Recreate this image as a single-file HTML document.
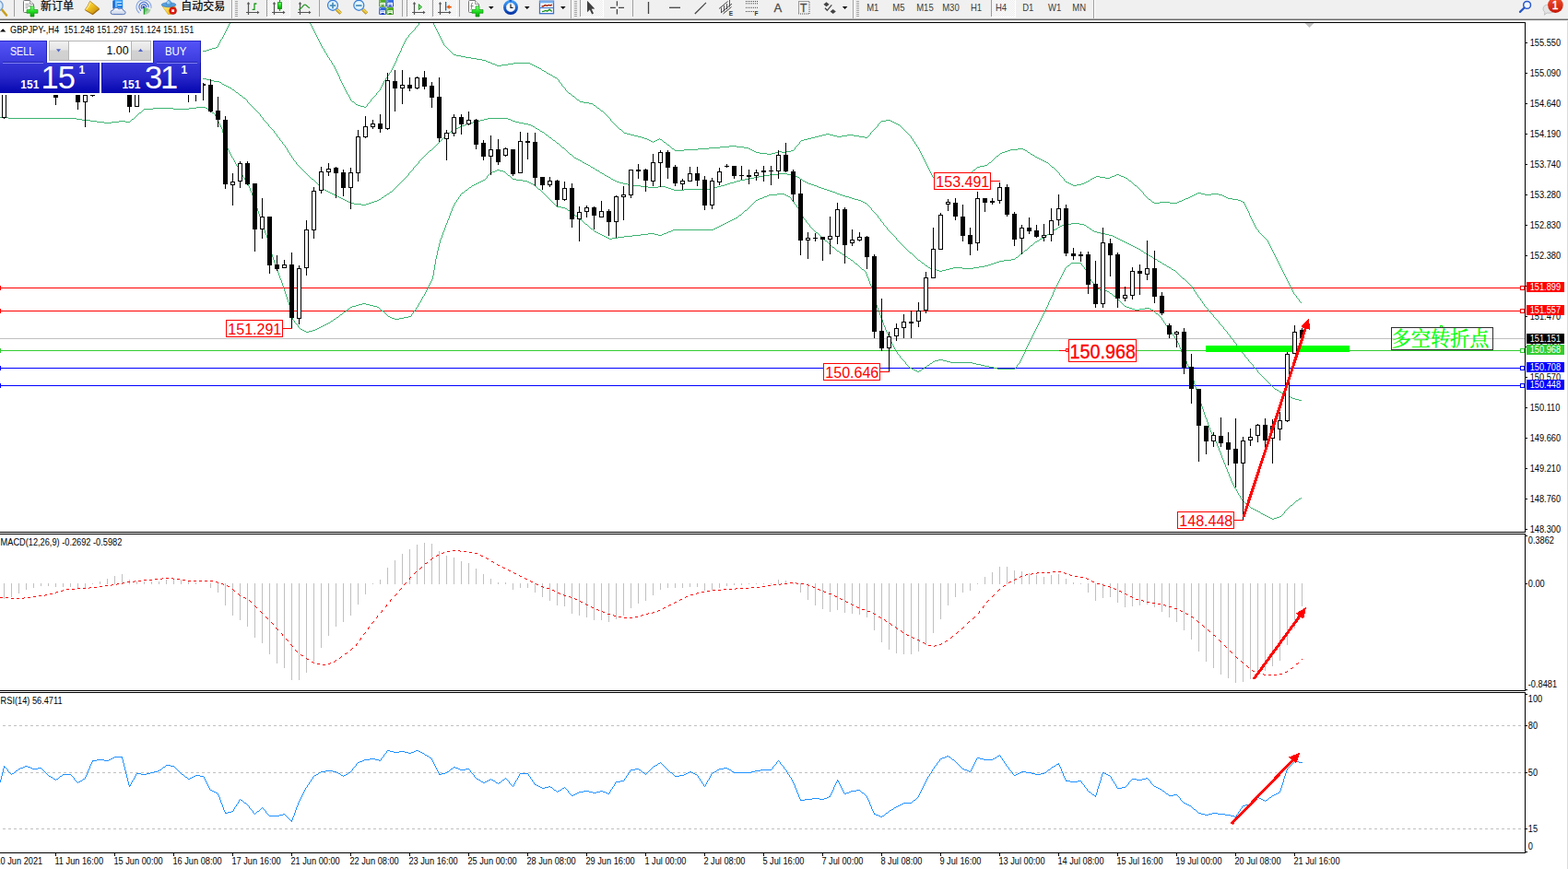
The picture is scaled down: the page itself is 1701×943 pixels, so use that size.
<!DOCTYPE html>
<html><head><meta charset="utf-8"><title>GBPJPY H4</title>
<style>
html,body{margin:0;padding:0;background:#fff;}
body{width:1701px;height:943px;overflow:hidden;position:relative;font-family:"Liberation Sans",sans-serif;}
#tb{position:absolute;left:0;top:0;width:1701px;height:20px;background:#f0f0f0;}
.ln{position:absolute;left:0;width:1701px;height:1px;}
</style></head><body>
<svg width="1701" height="943" viewBox="0 0 1701 943" style="position:absolute;left:0;top:0" font-family="Liberation Sans, sans-serif">
<defs><clipPath id="cm"><rect x="0" y="25" width="1654" height="552"/></clipPath><clipPath id="cd"><rect x="0" y="926" width="1701" height="17"/></clipPath></defs>
<g shape-rendering="crispEdges">
<rect x="0" y="367" width="1654" height="1" fill="#c0c0c0"/>
<rect x="0" y="312" width="1654" height="1" fill="#ff0000"/>
<rect x="0" y="337" width="1654" height="1" fill="#ff0000"/>
<rect x="0" y="380" width="1654" height="1" fill="#32cd32"/>
<rect x="0" y="399" width="1654" height="1" fill="#0000ff"/>
<rect x="0" y="418" width="1654" height="1" fill="#0000ff"/>
<rect x="0" y="310" width="1" height="5" fill="#ff0000"/>
<rect x="0" y="335" width="1" height="5" fill="#ff0000"/>
<rect x="0" y="378" width="1" height="5" fill="#32cd32"/>
<rect x="0" y="397" width="1" height="5" fill="#0000ff"/>
<rect x="0" y="416" width="1" height="5" fill="#0000ff"/>
</g>
<path d="M249 25h1v1h-1zM248 26h1v2h-1zM247 28h1v2h-1zM246 30h1v2h-1zM245 32h1v2h-1zM244 34h1v2h-1zM243 36h1v2h-1zM242 38h1v2h-1zM241 40h1v2h-1zM240 42h1v1h-1zM239 43h1v2h-1zM238 45h1v2h-1zM237 47h1v2h-1zM236 49h1v2h-1zM234 51h2v1h-2zM230 52h4v1h-4zM227 53h3v1h-3zM224 54h3v1h-3zM190 55h34v1h-34zM130 56h60v1h-60zM51 57h79v1h-79zM0 58h51v1h-51z" fill="#3cb371" shape-rendering="crispEdges"/>
<path d="M336 25h1v1h-1zM454 25h1v2h-1zM337 26h1v2h-1zM453 27h1v1h-1zM338 28h1v2h-1zM452 28h1v1h-1zM451 29h1v1h-1zM339 30h1v2h-1zM450 30h1v2h-1zM340 32h1v2h-1zM449 32h1v1h-1zM448 33h1v1h-1zM341 34h1v2h-1zM447 34h1v1h-1zM446 35h1v1h-1zM342 36h1v2h-1zM445 36h1v1h-1zM444 37h1v1h-1zM343 38h1v2h-1zM443 38h1v2h-1zM344 40h1v2h-1zM442 40h1v1h-1zM441 41h1v1h-1zM345 42h1v2h-1zM440 42h1v2h-1zM346 44h1v2h-1zM439 44h1v2h-1zM347 46h1v2h-1zM438 46h1v2h-1zM348 48h1v2h-1zM437 48h1v2h-1zM349 50h1v2h-1zM436 50h1v2h-1zM350 52h1v1h-1zM435 52h1v3h-1zM351 53h1v2h-1zM352 55h1v2h-1zM434 55h1v2h-1zM353 57h1v1h-1zM433 57h1v2h-1zM354 58h1v2h-1zM432 59h1v2h-1zM355 60h1v2h-1zM431 61h1v2h-1zM356 62h1v1h-1zM357 63h1v2h-1zM430 63h1v3h-1zM358 65h1v1h-1zM359 66h1v2h-1zM429 66h1v2h-1zM360 68h1v2h-1zM428 68h1v2h-1zM361 70h1v1h-1zM427 70h1v2h-1zM362 71h1v2h-1zM426 72h1v2h-1zM363 73h1v2h-1zM425 74h1v2h-1zM364 75h1v2h-1zM424 76h1v2h-1zM365 77h1v2h-1zM423 78h1v1h-1zM366 79h1v2h-1zM422 79h1v2h-1zM367 81h1v2h-1zM421 81h1v1h-1zM420 82h1v2h-1zM368 83h1v3h-1zM419 84h1v1h-1zM418 85h1v2h-1zM369 86h1v2h-1zM417 87h1v1h-1zM370 88h1v2h-1zM416 88h1v2h-1zM371 90h1v2h-1zM415 90h1v2h-1zM372 92h1v2h-1zM414 92h1v2h-1zM373 94h1v2h-1zM413 94h1v2h-1zM374 96h1v2h-1zM412 96h1v2h-1zM375 98h1v2h-1zM411 98h1v1h-1zM410 99h1v1h-1zM376 100h1v2h-1zM409 100h1v1h-1zM408 101h1v2h-1zM377 102h1v1h-1zM378 103h1v2h-1zM407 103h1v1h-1zM406 104h1v1h-1zM379 105h1v2h-1zM405 105h1v1h-1zM404 106h1v1h-1zM380 107h1v2h-1zM403 107h1v1h-1zM402 108h1v2h-1zM381 109h1v1h-1zM382 110h2v1h-2zM401 110h1v1h-1zM384 111h1v1h-1zM400 111h1v1h-1zM385 112h1v1h-1zM399 112h1v1h-1zM386 113h2v1h-2zM398 113h1v2h-1zM388 114h3v1h-3zM391 115h4v1h-4zM397 115h1v1h-1zM395 116h2v1h-2z" fill="#3cb371" shape-rendering="crispEdges"/>
<path d="M470 25h1v2h-1zM471 27h1v2h-1zM472 29h1v2h-1zM473 31h1v2h-1zM474 33h1v2h-1zM475 35h1v2h-1zM476 37h1v2h-1zM477 39h1v2h-1zM478 41h1v2h-1zM479 43h1v2h-1zM480 45h1v2h-1zM481 47h1v2h-1zM482 49h1v1h-1zM483 50h1v1h-1zM484 51h1v1h-1zM485 52h1v1h-1zM486 53h1v1h-1zM487 54h1v1h-1zM488 55h1v1h-1zM489 56h1v1h-1zM490 57h1v1h-1zM491 58h1v1h-1zM492 59h3v1h-3zM495 60h5v1h-5zM500 61h5v1h-5zM505 62h6v1h-6zM511 63h6v1h-6zM517 64h6v1h-6zM523 65h4v1h-4zM527 66h2v1h-2zM529 67h3v1h-3zM532 68h2v1h-2zM557 68h18v1h-18zM534 69h3v1h-3zM551 69h6v1h-6zM575 69h2v1h-2zM537 70h2v1h-2zM544 70h7v1h-7zM577 70h2v1h-2zM539 71h5v1h-5zM579 71h2v1h-2zM581 72h2v1h-2zM583 73h2v1h-2zM585 74h2v1h-2zM587 75h1v1h-1zM588 76h2v1h-2zM590 77h2v1h-2zM592 78h1v1h-1zM593 79h2v1h-2zM595 80h2v1h-2zM597 81h2v1h-2zM599 82h1v1h-1zM600 83h2v1h-2zM602 84h2v1h-2zM604 85h1v1h-1zM605 86h1v1h-1zM606 87h1v2h-1zM607 89h1v1h-1zM608 90h1v1h-1zM609 91h1v2h-1zM610 93h1v1h-1zM611 94h1v1h-1zM612 95h1v1h-1zM613 96h1v2h-1zM614 98h1v1h-1zM615 99h1v1h-1zM616 100h1v1h-1zM617 101h2v1h-2zM619 102h1v1h-1zM620 103h1v1h-1zM621 104h2v1h-2zM623 105h1v1h-1zM624 106h1v1h-1zM625 107h1v1h-1zM626 108h2v1h-2zM628 109h1v1h-1zM629 110h4v1h-4zM633 111h6v1h-6zM639 112h4v1h-4zM643 113h1v1h-1zM644 114h2v1h-2zM646 115h1v1h-1zM647 116h1v1h-1zM648 117h2v1h-2zM650 118h1v1h-1zM651 119h1v1h-1zM652 120h2v1h-2zM654 121h1v1h-1zM655 122h1v1h-1zM656 123h1v1h-1zM657 124h1v1h-1zM658 125h1v1h-1zM659 126h1v1h-1zM660 127h1v1h-1zM661 128h1v1h-1zM662 129h1v2h-1zM961 130h5v1h-5zM663 131h1v1h-1zM956 131h5v1h-5zM966 131h2v1h-2zM664 132h1v1h-1zM955 132h1v1h-1zM968 132h2v1h-2zM665 133h1v1h-1zM954 133h1v1h-1zM970 133h2v1h-2zM666 134h1v1h-1zM953 134h1v1h-1zM972 134h2v1h-2zM667 135h1v1h-1zM952 135h1v2h-1zM974 135h2v1h-2zM668 136h1v1h-1zM976 136h1v1h-1zM669 137h1v1h-1zM951 137h1v1h-1zM977 137h1v1h-1zM670 138h1v1h-1zM950 138h1v1h-1zM978 138h1v1h-1zM671 139h1v1h-1zM949 139h1v1h-1zM979 139h1v1h-1zM672 140h2v1h-2zM948 140h1v1h-1zM980 140h1v1h-1zM674 141h1v1h-1zM947 141h1v1h-1zM981 141h1v1h-1zM675 142h1v1h-1zM946 142h1v1h-1zM982 142h1v1h-1zM676 143h1v1h-1zM945 143h1v1h-1zM983 143h1v1h-1zM677 144h3v1h-3zM944 144h1v2h-1zM984 144h1v1h-1zM680 145h4v1h-4zM896 145h4v1h-4zM985 145h1v1h-1zM684 146h4v1h-4zM892 146h4v1h-4zM900 146h4v1h-4zM919 146h7v1h-7zM943 146h1v1h-1zM986 146h1v1h-1zM688 147h4v1h-4zM888 147h4v1h-4zM904 147h4v1h-4zM913 147h6v1h-6zM926 147h6v1h-6zM942 147h1v1h-1zM987 147h1v1h-1zM692 148h4v1h-4zM884 148h4v1h-4zM908 148h5v1h-5zM932 148h6v1h-6zM941 148h1v1h-1zM988 148h1v2h-1zM696 149h3v1h-3zM880 149h4v1h-4zM938 149h3v1h-3zM699 150h3v1h-3zM715 150h1v1h-1zM876 150h4v1h-4zM989 150h1v1h-1zM702 151h2v1h-2zM713 151h2v1h-2zM716 151h2v1h-2zM872 151h4v1h-4zM990 151h1v2h-1zM704 152h2v1h-2zM711 152h2v1h-2zM718 152h1v1h-1zM869 152h3v1h-3zM706 153h2v1h-2zM709 153h2v1h-2zM719 153h1v1h-1zM868 153h1v1h-1zM991 153h1v1h-1zM708 154h1v1h-1zM720 154h2v1h-2zM867 154h1v2h-1zM992 154h1v2h-1zM722 155h1v1h-1zM723 156h1v1h-1zM866 156h1v1h-1zM993 156h1v1h-1zM724 157h2v1h-2zM865 157h1v1h-1zM994 157h1v2h-1zM726 158h1v1h-1zM791 158h8v1h-8zM864 158h1v1h-1zM727 159h1v1h-1zM781 159h10v1h-10zM799 159h8v1h-8zM863 159h1v1h-1zM995 159h1v1h-1zM728 160h1v1h-1zM769 160h12v1h-12zM807 160h5v1h-5zM862 160h1v2h-1zM996 160h1v2h-1zM729 161h2v1h-2zM757 161h12v1h-12zM812 161h2v1h-2zM1104 161h6v1h-6zM731 162h1v1h-1zM742 162h15v1h-15zM814 162h2v1h-2zM861 162h1v1h-1zM997 162h1v2h-1zM1096 162h8v1h-8zM1110 162h2v1h-2zM732 163h10v1h-10zM816 163h2v1h-2zM858 163h3v1h-3zM1093 163h3v1h-3zM1112 163h2v1h-2zM818 164h2v1h-2zM844 164h4v1h-4zM853 164h5v1h-5zM998 164h1v2h-1zM1090 164h3v1h-3zM1114 164h1v1h-1zM820 165h4v1h-4zM841 165h3v1h-3zM848 165h5v1h-5zM1087 165h3v1h-3zM1115 165h2v1h-2zM824 166h8v1h-8zM837 166h4v1h-4zM999 166h1v2h-1zM1085 166h2v1h-2zM1117 166h1v1h-1zM832 167h5v1h-5zM1084 167h1v1h-1zM1118 167h2v1h-2zM1000 168h1v2h-1zM1083 168h1v1h-1zM1120 168h2v1h-2zM1081 169h2v1h-2zM1122 169h1v1h-1zM1001 170h1v2h-1zM1080 170h1v1h-1zM1123 170h2v1h-2zM1079 171h1v1h-1zM1125 171h2v1h-2zM1002 172h1v2h-1zM1078 172h1v1h-1zM1127 172h2v1h-2zM1077 173h1v1h-1zM1129 173h2v1h-2zM1003 174h1v2h-1zM1076 174h1v1h-1zM1131 174h2v1h-2zM1075 175h1v1h-1zM1133 175h2v1h-2zM1004 176h1v2h-1zM1073 176h2v1h-2zM1135 176h2v1h-2zM1072 177h1v1h-1zM1137 177h1v1h-1zM1005 178h1v2h-1zM1071 178h1v1h-1zM1138 178h1v1h-1zM1068 179h3v1h-3zM1139 179h1v1h-1zM1006 180h1v2h-1zM1063 180h5v1h-5zM1140 180h1v1h-1zM1060 181h3v1h-3zM1141 181h2v1h-2zM1007 182h1v2h-1zM1059 182h1v1h-1zM1143 182h1v1h-1zM1058 183h1v1h-1zM1144 183h1v1h-1zM1008 184h1v2h-1zM1056 184h2v1h-2zM1145 184h1v1h-1zM1055 185h1v1h-1zM1146 185h1v1h-1zM1009 186h1v2h-1zM1054 186h1v1h-1zM1147 186h1v1h-1zM1053 187h1v1h-1zM1148 187h1v1h-1zM1010 188h1v2h-1zM1052 188h1v1h-1zM1149 188h1v2h-1zM1050 189h2v1h-2zM1211 189h3v1h-3zM1011 190h1v2h-1zM1049 190h1v1h-1zM1150 190h1v1h-1zM1209 190h2v1h-2zM1214 190h2v1h-2zM1048 191h1v1h-1zM1151 191h1v1h-1zM1189 191h4v1h-4zM1206 191h3v1h-3zM1216 191h3v1h-3zM1012 192h1v1h-1zM1047 192h1v1h-1zM1152 192h1v1h-1zM1187 192h2v1h-2zM1193 192h6v1h-6zM1204 192h2v1h-2zM1219 192h2v1h-2zM1013 193h1v1h-1zM1046 193h1v1h-1zM1153 193h1v1h-1zM1185 193h2v1h-2zM1199 193h5v1h-5zM1221 193h2v1h-2zM1014 194h1v1h-1zM1044 194h2v1h-2zM1154 194h1v2h-1zM1183 194h2v1h-2zM1223 194h1v1h-1zM1015 195h1v1h-1zM1043 195h1v1h-1zM1182 195h1v1h-1zM1224 195h1v1h-1zM1016 196h1v1h-1zM1042 196h1v1h-1zM1155 196h1v1h-1zM1180 196h2v1h-2zM1225 196h2v1h-2zM1017 197h1v1h-1zM1040 197h2v1h-2zM1156 197h2v1h-2zM1178 197h2v1h-2zM1227 197h1v1h-1zM1018 198h1v1h-1zM1038 198h2v1h-2zM1158 198h2v1h-2zM1176 198h2v1h-2zM1228 198h1v1h-1zM1019 199h1v1h-1zM1036 199h2v1h-2zM1160 199h2v1h-2zM1173 199h3v1h-3zM1229 199h1v1h-1zM1020 200h3v1h-3zM1034 200h2v1h-2zM1162 200h2v1h-2zM1168 200h5v1h-5zM1230 200h1v1h-1zM1023 201h5v1h-5zM1032 201h2v1h-2zM1164 201h4v1h-4zM1231 201h2v1h-2zM1028 202h4v1h-4zM1233 202h1v1h-1zM1234 203h1v1h-1zM1235 204h1v1h-1zM1236 205h1v1h-1zM1237 206h1v1h-1zM1238 207h1v1h-1zM1239 208h1v1h-1zM1240 209h1v2h-1zM1299 209h4v1h-4zM1297 210h2v1h-2zM1303 210h4v1h-4zM1314 210h8v1h-8zM1241 211h1v1h-1zM1295 211h2v1h-2zM1307 211h7v1h-7zM1322 211h4v1h-4zM1242 212h1v1h-1zM1293 212h2v1h-2zM1326 212h2v1h-2zM1243 213h1v1h-1zM1291 213h2v1h-2zM1328 213h2v1h-2zM1244 214h1v1h-1zM1289 214h2v1h-2zM1330 214h2v1h-2zM1245 215h1v1h-1zM1286 215h3v1h-3zM1332 215h5v1h-5zM1246 216h2v1h-2zM1284 216h2v1h-2zM1337 216h6v1h-6zM1248 217h1v1h-1zM1282 217h2v1h-2zM1343 217h3v1h-3zM1249 218h1v1h-1zM1279 218h3v1h-3zM1346 218h2v1h-2zM1250 219h2v1h-2zM1258 219h11v1h-11zM1277 219h2v1h-2zM1348 219h2v1h-2zM1252 220h6v1h-6zM1269 220h8v1h-8zM1349 220h1v1h-1zM1350 221h1v2h-1zM1351 223h1v2h-1zM1352 225h1v2h-1zM1353 227h1v2h-1zM1354 229h1v2h-1zM1355 231h1v3h-1zM1356 234h1v2h-1zM1357 236h1v2h-1zM1358 238h1v2h-1zM1359 240h1v2h-1zM1360 242h1v2h-1zM1361 244h1v2h-1zM1362 246h1v2h-1zM1363 248h1v1h-1zM1364 249h1v1h-1zM1365 250h1v2h-1zM1366 252h1v1h-1zM1367 253h1v1h-1zM1368 254h1v1h-1zM1369 255h1v1h-1zM1370 256h1v1h-1zM1371 257h1v1h-1zM1372 258h1v1h-1zM1373 259h1v1h-1zM1374 260h1v1h-1zM1375 261h1v2h-1zM1376 263h1v2h-1zM1377 265h1v2h-1zM1378 267h1v2h-1zM1379 269h1v2h-1zM1380 271h1v2h-1zM1381 273h1v2h-1zM1382 275h1v2h-1zM1383 277h1v2h-1zM1384 279h1v2h-1zM1385 281h1v2h-1zM1386 283h1v2h-1zM1387 285h1v2h-1zM1388 287h1v2h-1zM1389 289h1v2h-1zM1390 291h1v2h-1zM1391 293h1v2h-1zM1392 295h1v2h-1zM1393 297h1v2h-1zM1394 299h1v2h-1zM1395 301h1v2h-1zM1396 303h1v2h-1zM1397 305h1v2h-1zM1398 307h1v2h-1zM1399 309h1v2h-1zM1400 311h1v2h-1zM1401 313h1v2h-1zM1402 315h1v2h-1zM1403 317h1v2h-1zM1404 319h1v1h-1zM1405 320h1v1h-1zM1406 321h1v2h-1zM1407 323h1v1h-1zM1408 324h1v1h-1zM1409 325h1v2h-1zM1410 327h1v1h-1zM1411 328h1v1h-1z" fill="#3cb371" shape-rendering="crispEdges"/>
<path d="M198 85h26v1h-26zM154 86h44v1h-44zM224 86h4v1h-4zM110 87h44v1h-44zM228 87h4v1h-4zM66 88h44v1h-44zM232 88h6v1h-6zM22 89h44v1h-44zM238 89h2v1h-2zM0 90h22v1h-22zM240 90h1v1h-1zM241 91h2v1h-2zM243 92h2v1h-2zM245 93h2v1h-2zM247 94h2v1h-2zM249 95h2v1h-2zM251 96h1v1h-1zM252 97h2v1h-2zM254 98h1v1h-1zM255 99h1v1h-1zM256 100h2v1h-2zM258 101h1v1h-1zM259 102h1v1h-1zM260 103h2v1h-2zM262 104h1v1h-1zM263 105h1v1h-1zM264 106h2v1h-2zM266 107h1v1h-1zM267 108h1v1h-1zM268 109h1v2h-1zM269 111h1v1h-1zM270 112h1v1h-1zM271 113h1v1h-1zM272 114h1v1h-1zM273 115h1v1h-1zM274 116h1v1h-1zM275 117h1v1h-1zM276 118h1v1h-1zM277 119h1v1h-1zM278 120h1v1h-1zM279 121h1v1h-1zM280 122h1v1h-1zM281 123h1v1h-1zM282 124h1v2h-1zM283 126h1v1h-1zM284 127h1v1h-1zM285 128h1v2h-1zM529 128h22v1h-22zM525 129h4v1h-4zM551 129h3v1h-3zM286 130h1v1h-1zM521 130h4v1h-4zM554 130h2v1h-2zM287 131h1v1h-1zM517 131h4v1h-4zM556 131h3v1h-3zM288 132h1v1h-1zM513 132h4v1h-4zM559 132h4v1h-4zM289 133h1v1h-1zM509 133h4v1h-4zM563 133h5v1h-5zM290 134h1v1h-1zM506 134h3v1h-3zM568 134h5v1h-5zM291 135h1v2h-1zM504 135h2v1h-2zM573 135h3v1h-3zM501 136h3v1h-3zM576 136h2v1h-2zM292 137h1v1h-1zM499 137h2v1h-2zM578 137h2v1h-2zM293 138h1v1h-1zM497 138h2v1h-2zM580 138h1v1h-1zM294 139h1v1h-1zM494 139h3v1h-3zM581 139h2v1h-2zM295 140h1v1h-1zM492 140h2v1h-2zM583 140h2v1h-2zM296 141h1v1h-1zM490 141h2v1h-2zM585 141h1v1h-1zM297 142h1v2h-1zM489 142h1v1h-1zM586 142h2v1h-2zM488 143h1v1h-1zM588 143h2v1h-2zM298 144h1v1h-1zM487 144h1v1h-1zM590 144h1v1h-1zM299 145h1v1h-1zM486 145h1v1h-1zM591 145h1v1h-1zM300 146h1v2h-1zM485 146h1v1h-1zM592 146h2v1h-2zM484 147h1v1h-1zM594 147h1v1h-1zM301 148h1v1h-1zM482 148h2v1h-2zM595 148h1v1h-1zM302 149h1v1h-1zM481 149h1v1h-1zM596 149h2v1h-2zM303 150h1v2h-1zM480 150h1v1h-1zM598 150h1v1h-1zM479 151h1v1h-1zM599 151h1v1h-1zM304 152h1v1h-1zM478 152h1v1h-1zM600 152h2v1h-2zM305 153h1v1h-1zM477 153h1v1h-1zM602 153h1v1h-1zM306 154h1v2h-1zM476 154h1v1h-1zM603 154h1v1h-1zM475 155h1v1h-1zM604 155h2v1h-2zM307 156h1v1h-1zM474 156h1v1h-1zM606 156h1v1h-1zM308 157h1v1h-1zM473 157h1v1h-1zM607 157h1v1h-1zM309 158h1v2h-1zM472 158h1v1h-1zM608 158h1v1h-1zM471 159h1v1h-1zM609 159h1v1h-1zM310 160h1v1h-1zM470 160h1v1h-1zM610 160h2v1h-2zM311 161h1v2h-1zM469 161h1v1h-1zM612 161h1v1h-1zM468 162h1v1h-1zM613 162h1v1h-1zM312 163h1v2h-1zM466 163h2v1h-2zM614 163h1v1h-1zM465 164h1v1h-1zM615 164h1v1h-1zM313 165h1v1h-1zM464 165h1v1h-1zM616 165h1v1h-1zM314 166h1v2h-1zM463 166h1v1h-1zM617 166h1v1h-1zM462 167h1v1h-1zM618 167h2v1h-2zM315 168h1v1h-1zM461 168h1v1h-1zM620 168h1v1h-1zM316 169h1v2h-1zM460 169h1v1h-1zM621 169h1v1h-1zM459 170h1v1h-1zM622 170h1v1h-1zM317 171h1v1h-1zM458 171h1v1h-1zM623 171h2v1h-2zM318 172h1v2h-1zM457 172h1v1h-1zM625 172h2v1h-2zM456 173h1v1h-1zM627 173h2v1h-2zM319 174h1v1h-1zM455 174h1v1h-1zM629 174h2v1h-2zM320 175h1v1h-1zM454 175h1v2h-1zM631 175h1v1h-1zM321 176h1v2h-1zM632 176h2v1h-2zM453 177h1v1h-1zM634 177h2v1h-2zM322 178h1v1h-1zM452 178h1v1h-1zM636 178h2v1h-2zM323 179h1v1h-1zM451 179h1v1h-1zM638 179h2v1h-2zM324 180h1v1h-1zM450 180h1v1h-1zM640 180h1v1h-1zM325 181h1v1h-1zM449 181h1v1h-1zM641 181h2v1h-2zM326 182h1v1h-1zM448 182h1v2h-1zM643 182h2v1h-2zM327 183h1v1h-1zM645 183h1v1h-1zM328 184h1v1h-1zM447 184h1v1h-1zM646 184h2v1h-2zM329 185h1v1h-1zM446 185h1v1h-1zM648 185h2v1h-2zM330 186h1v1h-1zM445 186h1v1h-1zM650 186h1v1h-1zM331 187h1v1h-1zM444 187h1v1h-1zM651 187h2v1h-2zM332 188h1v1h-1zM443 188h1v2h-1zM653 188h2v1h-2zM844 188h10v1h-10zM333 189h1v1h-1zM655 189h1v1h-1zM835 189h9v1h-9zM854 189h6v1h-6zM334 190h1v1h-1zM442 190h1v1h-1zM656 190h2v1h-2zM829 190h6v1h-6zM860 190h3v1h-3zM335 191h1v1h-1zM441 191h1v1h-1zM658 191h2v1h-2zM823 191h6v1h-6zM863 191h2v1h-2zM336 192h1v1h-1zM440 192h1v1h-1zM660 192h2v1h-2zM818 192h5v1h-5zM865 192h2v1h-2zM337 193h1v1h-1zM439 193h1v1h-1zM662 193h1v1h-1zM813 193h5v1h-5zM867 193h1v1h-1zM338 194h2v1h-2zM438 194h1v1h-1zM663 194h2v1h-2zM808 194h5v1h-5zM868 194h2v1h-2zM340 195h1v1h-1zM437 195h1v1h-1zM665 195h2v1h-2zM803 195h5v1h-5zM870 195h1v1h-1zM341 196h1v1h-1zM436 196h1v1h-1zM667 196h2v1h-2zM799 196h4v1h-4zM871 196h2v1h-2zM342 197h1v1h-1zM435 197h1v1h-1zM669 197h3v1h-3zM796 197h3v1h-3zM873 197h2v1h-2zM343 198h1v1h-1zM434 198h1v1h-1zM672 198h4v1h-4zM792 198h4v1h-4zM875 198h2v1h-2zM344 199h1v1h-1zM433 199h1v1h-1zM676 199h5v1h-5zM789 199h3v1h-3zM877 199h3v1h-3zM345 200h1v1h-1zM432 200h1v1h-1zM681 200h6v1h-6zM786 200h3v1h-3zM880 200h3v1h-3zM346 201h1v1h-1zM431 201h1v1h-1zM687 201h8v1h-8zM782 201h4v1h-4zM883 201h3v1h-3zM347 202h1v1h-1zM430 202h1v1h-1zM695 202h8v1h-8zM714 202h8v1h-8zM778 202h4v1h-4zM886 202h2v1h-2zM348 203h1v1h-1zM429 203h1v1h-1zM703 203h11v1h-11zM722 203h3v1h-3zM774 203h4v1h-4zM888 203h3v1h-3zM349 204h1v1h-1zM428 204h1v1h-1zM725 204h3v1h-3zM770 204h4v1h-4zM891 204h3v1h-3zM350 205h2v1h-2zM427 205h1v1h-1zM728 205h3v1h-3zM742 205h28v1h-28zM894 205h3v1h-3zM352 206h2v1h-2zM426 206h1v1h-1zM731 206h11v1h-11zM897 206h3v1h-3zM354 207h2v1h-2zM425 207h1v1h-1zM900 207h3v1h-3zM356 208h2v1h-2zM423 208h2v1h-2zM903 208h3v1h-3zM358 209h2v1h-2zM422 209h1v1h-1zM906 209h2v1h-2zM360 210h2v1h-2zM420 210h2v1h-2zM908 210h3v1h-3zM362 211h2v1h-2zM419 211h1v1h-1zM911 211h3v1h-3zM364 212h2v1h-2zM417 212h2v1h-2zM914 212h3v1h-3zM366 213h2v1h-2zM416 213h1v1h-1zM917 213h4v1h-4zM368 214h2v1h-2zM414 214h2v1h-2zM921 214h3v1h-3zM370 215h2v1h-2zM413 215h1v1h-1zM924 215h3v1h-3zM372 216h2v1h-2zM411 216h2v1h-2zM927 216h4v1h-4zM374 217h2v1h-2zM409 217h2v1h-2zM931 217h3v1h-3zM376 218h2v1h-2zM406 218h3v1h-3zM934 218h2v1h-2zM378 219h2v1h-2zM403 219h3v1h-3zM936 219h2v1h-2zM380 220h4v1h-4zM400 220h3v1h-3zM938 220h2v1h-2zM384 221h8v1h-8zM397 221h3v1h-3zM940 221h1v1h-1zM392 222h5v1h-5zM941 222h1v1h-1zM942 223h1v1h-1zM943 224h1v1h-1zM944 225h1v1h-1zM945 226h1v2h-1zM946 228h1v1h-1zM947 229h1v1h-1zM948 230h1v1h-1zM949 231h1v1h-1zM950 232h1v1h-1zM951 233h1v1h-1zM952 234h1v2h-1zM953 236h1v1h-1zM954 237h1v1h-1zM955 238h1v2h-1zM956 240h1v1h-1zM957 241h1v1h-1zM958 242h1v2h-1zM1162 242h9v1h-9zM1156 243h6v1h-6zM1171 243h5v1h-5zM959 244h1v1h-1zM1152 244h4v1h-4zM1176 244h2v1h-2zM960 245h1v1h-1zM1150 245h2v1h-2zM1178 245h1v1h-1zM961 246h1v1h-1zM1148 246h2v1h-2zM1179 246h2v1h-2zM962 247h1v2h-1zM1147 247h1v1h-1zM1181 247h1v1h-1zM1145 248h2v1h-2zM1182 248h2v1h-2zM963 249h1v1h-1zM1143 249h2v1h-2zM1184 249h1v1h-1zM964 250h1v1h-1zM1142 250h1v1h-1zM1185 250h2v1h-2zM965 251h1v1h-1zM1140 251h2v1h-2zM1187 251h3v1h-3zM966 252h1v1h-1zM1139 252h1v1h-1zM1190 252h4v1h-4zM967 253h1v1h-1zM1138 253h1v1h-1zM1194 253h5v1h-5zM968 254h1v1h-1zM1136 254h2v1h-2zM1199 254h4v1h-4zM969 255h1v1h-1zM1135 255h1v1h-1zM1203 255h4v1h-4zM970 256h1v1h-1zM1133 256h2v1h-2zM1207 256h2v1h-2zM971 257h1v1h-1zM1132 257h1v1h-1zM1209 257h2v1h-2zM972 258h1v2h-1zM1130 258h2v1h-2zM1211 258h2v1h-2zM1128 259h2v1h-2zM1213 259h2v1h-2zM973 260h1v1h-1zM1127 260h1v1h-1zM1215 260h2v1h-2zM974 261h1v1h-1zM1125 261h2v1h-2zM1217 261h2v1h-2zM975 262h1v1h-1zM1123 262h2v1h-2zM1219 262h2v1h-2zM976 263h1v1h-1zM1122 263h1v1h-1zM1221 263h2v1h-2zM977 264h1v1h-1zM1121 264h1v1h-1zM1223 264h2v1h-2zM978 265h1v1h-1zM1120 265h1v1h-1zM1225 265h2v1h-2zM979 266h1v1h-1zM1118 266h2v1h-2zM1227 266h2v1h-2zM980 267h1v1h-1zM1117 267h1v1h-1zM1229 267h2v1h-2zM981 268h1v1h-1zM1116 268h1v1h-1zM1231 268h2v1h-2zM982 269h1v1h-1zM1115 269h1v1h-1zM1233 269h2v1h-2zM983 270h1v1h-1zM1114 270h1v1h-1zM1235 270h2v1h-2zM984 271h1v1h-1zM1112 271h2v1h-2zM1237 271h1v1h-1zM985 272h1v1h-1zM1111 272h1v1h-1zM1238 272h2v1h-2zM986 273h1v1h-1zM1110 273h1v1h-1zM1240 273h1v1h-1zM987 274h2v1h-2zM1109 274h1v1h-1zM1241 274h2v1h-2zM989 275h1v1h-1zM1107 275h2v1h-2zM1243 275h2v1h-2zM990 276h1v1h-1zM1106 276h1v1h-1zM1245 276h1v1h-1zM991 277h1v1h-1zM1105 277h1v1h-1zM1246 277h2v1h-2zM992 278h1v1h-1zM1104 278h1v1h-1zM1248 278h2v1h-2zM993 279h1v1h-1zM1102 279h2v1h-2zM1250 279h1v1h-1zM994 280h1v1h-1zM1101 280h1v1h-1zM1251 280h2v1h-2zM995 281h1v1h-1zM1097 281h4v1h-4zM1253 281h2v1h-2zM996 282h2v1h-2zM1089 282h8v1h-8zM1255 282h1v1h-1zM998 283h1v1h-1zM1084 283h5v1h-5zM1256 283h2v1h-2zM999 284h1v1h-1zM1081 284h3v1h-3zM1258 284h2v1h-2zM1000 285h2v1h-2zM1078 285h3v1h-3zM1260 285h1v1h-1zM1002 286h1v1h-1zM1075 286h3v1h-3zM1261 286h2v1h-2zM1003 287h1v1h-1zM1072 287h3v1h-3zM1263 287h2v1h-2zM1004 288h2v1h-2zM1068 288h4v1h-4zM1265 288h1v1h-1zM1006 289h1v1h-1zM1062 289h6v1h-6zM1266 289h2v1h-2zM1007 290h2v1h-2zM1034 290h10v1h-10zM1056 290h6v1h-6zM1268 290h2v1h-2zM1009 291h3v1h-3zM1030 291h4v1h-4zM1044 291h12v1h-12zM1270 291h1v1h-1zM1012 292h4v1h-4zM1026 292h4v1h-4zM1271 292h2v1h-2zM1016 293h3v1h-3zM1022 293h4v1h-4zM1273 293h2v1h-2zM1019 294h3v1h-3zM1275 294h1v1h-1zM1276 295h1v1h-1zM1277 296h1v1h-1zM1278 297h1v1h-1zM1279 298h1v1h-1zM1280 299h1v1h-1zM1281 300h1v1h-1zM1282 301h1v1h-1zM1283 302h2v1h-2zM1285 303h1v1h-1zM1286 304h1v1h-1zM1287 305h1v1h-1zM1288 306h1v1h-1zM1289 307h1v1h-1zM1290 308h1v1h-1zM1291 309h1v1h-1zM1292 310h1v1h-1zM1293 311h1v2h-1zM1294 313h1v1h-1zM1295 314h1v2h-1zM1296 316h1v1h-1zM1297 317h1v2h-1zM1298 319h1v1h-1zM1299 320h1v2h-1zM1300 322h1v1h-1zM1301 323h1v1h-1zM1302 324h1v2h-1zM1303 326h1v1h-1zM1304 327h1v2h-1zM1305 329h1v1h-1zM1306 330h1v2h-1zM1307 332h1v1h-1zM1308 333h1v1h-1zM1309 334h1v1h-1zM1310 335h1v2h-1zM1311 337h1v1h-1zM1312 338h1v1h-1zM1313 339h1v1h-1zM1314 340h1v1h-1zM1315 341h1v1h-1zM1316 342h1v2h-1zM1317 344h1v1h-1zM1318 345h1v1h-1zM1319 346h1v1h-1zM1320 347h1v1h-1zM1321 348h1v1h-1zM1322 349h1v2h-1zM1323 351h1v1h-1zM1324 352h1v1h-1zM1325 353h1v1h-1zM1326 354h1v1h-1zM1327 355h1v2h-1zM1328 357h1v1h-1zM1329 358h1v1h-1zM1330 359h1v1h-1zM1331 360h1v2h-1zM1332 362h1v1h-1zM1333 363h1v1h-1zM1334 364h1v2h-1zM1335 366h1v1h-1zM1336 367h1v1h-1zM1337 368h1v1h-1zM1338 369h1v2h-1zM1339 371h1v1h-1zM1340 372h1v1h-1zM1341 373h1v2h-1zM1342 375h1v1h-1zM1343 376h1v1h-1zM1344 377h1v2h-1zM1345 379h1v1h-1zM1346 380h1v1h-1zM1347 381h1v2h-1zM1348 383h1v1h-1zM1349 384h1v1h-1zM1350 385h1v2h-1zM1351 387h1v1h-1zM1352 388h1v1h-1zM1353 389h1v1h-1zM1354 390h1v2h-1zM1355 392h1v1h-1zM1356 393h1v1h-1zM1357 394h1v1h-1zM1358 395h1v1h-1zM1359 396h1v2h-1zM1360 398h1v1h-1zM1361 399h1v1h-1zM1362 400h1v1h-1zM1363 401h1v1h-1zM1364 402h1v2h-1zM1365 404h1v1h-1zM1366 405h1v1h-1zM1367 406h1v1h-1zM1368 407h1v1h-1zM1369 408h1v1h-1zM1370 409h1v1h-1zM1371 410h1v1h-1zM1372 411h1v1h-1zM1373 412h1v1h-1zM1374 413h1v1h-1zM1375 414h1v1h-1zM1376 415h1v1h-1zM1377 416h1v1h-1zM1378 417h1v1h-1zM1379 418h1v1h-1zM1380 419h1v1h-1zM1381 420h1v1h-1zM1382 421h1v1h-1zM1383 422h2v1h-2zM1385 423h2v1h-2zM1387 424h1v1h-1zM1388 425h2v1h-2zM1390 426h2v1h-2zM1392 427h2v1h-2zM1394 428h2v1h-2zM1396 429h2v1h-2zM1398 430h2v1h-2zM1400 431h2v1h-2zM1402 432h3v1h-3zM1405 433h4v1h-4zM1409 434h3v1h-3z" fill="#3cb371" shape-rendering="crispEdges"/>
<path d="M213 116h10v1h-10zM166 117h22v1h-22zM205 117h8v1h-8zM223 117h2v1h-2zM156 118h10v1h-10zM188 118h17v1h-17zM225 118h1v1h-1zM155 119h1v1h-1zM226 119h2v1h-2zM154 120h1v1h-1zM228 120h1v1h-1zM153 121h1v1h-1zM229 121h1v1h-1zM151 122h2v1h-2zM230 122h2v1h-2zM150 123h1v1h-1zM232 123h1v1h-1zM149 124h1v1h-1zM233 124h1v2h-1zM148 125h1v1h-1zM147 126h1v1h-1zM234 126h1v2h-1zM0 127h9v1h-9zM146 127h1v1h-1zM9 128h74v1h-74zM145 128h1v1h-1zM235 128h1v2h-1zM83 129h6v1h-6zM143 129h2v1h-2zM89 130h9v1h-9zM142 130h1v1h-1zM236 130h1v2h-1zM98 131h7v1h-7zM129 131h7v1h-7zM141 131h1v1h-1zM105 132h8v1h-8zM121 132h8v1h-8zM136 132h5v1h-5zM237 132h1v2h-1zM113 133h8v1h-8zM238 134h1v2h-1zM239 136h1v2h-1zM240 138h1v2h-1zM241 140h1v4h-1zM242 144h1v4h-1zM243 148h1v3h-1zM244 151h1v4h-1zM245 155h1v4h-1zM246 159h1v2h-1zM247 161h1v2h-1zM248 163h1v2h-1zM249 165h1v2h-1zM250 167h1v2h-1zM251 169h1v2h-1zM252 171h1v1h-1zM253 172h1v2h-1zM254 174h1v2h-1zM255 176h1v2h-1zM256 178h1v2h-1zM257 180h1v1h-1zM258 181h1v2h-1zM259 183h1v2h-1zM539 184h3v1h-3zM260 185h1v1h-1zM537 185h2v1h-2zM542 185h4v1h-4zM261 186h1v2h-1zM534 186h3v1h-3zM546 186h2v1h-2zM532 187h2v1h-2zM548 187h1v1h-1zM262 188h1v2h-1zM531 188h1v1h-1zM549 188h1v1h-1zM530 189h1v1h-1zM550 189h1v1h-1zM263 190h1v2h-1zM529 190h1v1h-1zM551 190h2v1h-2zM528 191h1v2h-1zM553 191h1v1h-1zM264 192h1v1h-1zM554 192h1v1h-1zM265 193h1v2h-1zM527 193h1v1h-1zM555 193h1v1h-1zM526 194h1v1h-1zM556 194h4v1h-4zM266 195h1v2h-1zM524 195h2v1h-2zM560 195h7v1h-7zM522 196h2v1h-2zM567 196h5v1h-5zM267 197h1v1h-1zM520 197h2v1h-2zM572 197h2v1h-2zM268 198h1v2h-1zM518 198h2v1h-2zM574 198h2v1h-2zM516 199h2v1h-2zM576 199h2v1h-2zM269 200h1v2h-1zM514 200h2v1h-2zM578 200h2v1h-2zM512 201h2v1h-2zM580 201h1v1h-1zM270 202h1v2h-1zM511 202h1v1h-1zM581 202h1v1h-1zM509 203h2v1h-2zM582 203h1v1h-1zM271 204h1v3h-1zM508 204h1v1h-1zM583 204h1v1h-1zM507 205h1v1h-1zM584 205h2v1h-2zM505 206h2v1h-2zM586 206h1v1h-1zM272 207h1v2h-1zM504 207h1v1h-1zM587 207h1v1h-1zM503 208h1v1h-1zM588 208h1v1h-1zM273 209h1v3h-1zM501 209h2v1h-2zM589 209h1v1h-1zM500 210h1v1h-1zM590 210h1v1h-1zM843 210h8v1h-8zM499 211h1v2h-1zM591 211h1v1h-1zM834 211h9v1h-9zM851 211h2v1h-2zM274 212h1v3h-1zM592 212h1v1h-1zM832 212h2v1h-2zM853 212h2v1h-2zM498 213h1v1h-1zM593 213h1v1h-1zM829 213h3v1h-3zM855 213h2v1h-2zM497 214h1v2h-1zM594 214h1v1h-1zM827 214h2v1h-2zM857 214h1v1h-1zM275 215h1v2h-1zM595 215h1v1h-1zM824 215h3v1h-3zM858 215h1v2h-1zM496 216h1v1h-1zM596 216h1v1h-1zM822 216h2v1h-2zM276 217h1v3h-1zM495 217h1v2h-1zM597 217h1v1h-1zM820 217h2v1h-2zM859 217h1v1h-1zM598 218h1v1h-1zM819 218h1v1h-1zM860 218h1v1h-1zM494 219h1v1h-1zM599 219h1v1h-1zM818 219h1v1h-1zM861 219h1v2h-1zM277 220h1v3h-1zM493 220h1v2h-1zM600 220h1v1h-1zM817 220h1v1h-1zM601 221h1v1h-1zM816 221h1v1h-1zM862 221h1v1h-1zM492 222h1v2h-1zM602 222h1v1h-1zM815 222h1v1h-1zM863 222h1v1h-1zM278 223h1v3h-1zM603 223h1v1h-1zM814 223h1v1h-1zM864 223h1v2h-1zM491 224h1v2h-1zM604 224h5v1h-5zM813 224h1v1h-1zM609 225h4v1h-4zM812 225h1v1h-1zM865 225h1v1h-1zM279 226h1v3h-1zM490 226h1v3h-1zM613 226h2v1h-2zM811 226h1v1h-1zM866 226h1v2h-1zM615 227h1v1h-1zM810 227h1v1h-1zM616 228h2v1h-2zM808 228h2v1h-2zM867 228h1v2h-1zM280 229h1v3h-1zM489 229h1v2h-1zM618 229h1v1h-1zM807 229h1v1h-1zM619 230h1v1h-1zM806 230h1v1h-1zM868 230h1v2h-1zM488 231h1v3h-1zM620 231h2v1h-2zM805 231h1v1h-1zM281 232h1v3h-1zM622 232h1v1h-1zM804 232h1v1h-1zM869 232h1v1h-1zM623 233h1v1h-1zM802 233h2v1h-2zM870 233h1v2h-1zM487 234h1v3h-1zM624 234h2v1h-2zM801 234h1v1h-1zM282 235h1v3h-1zM626 235h1v1h-1zM800 235h1v1h-1zM871 235h1v2h-1zM627 236h1v1h-1zM798 236h2v1h-2zM486 237h1v2h-1zM628 237h1v1h-1zM796 237h2v1h-2zM872 237h1v1h-1zM283 238h1v3h-1zM629 238h2v1h-2zM794 238h2v1h-2zM873 238h1v1h-1zM485 239h1v3h-1zM631 239h1v1h-1zM792 239h2v1h-2zM874 239h1v2h-1zM632 240h1v1h-1zM790 240h2v1h-2zM284 241h1v3h-1zM633 241h1v1h-1zM788 241h2v1h-2zM875 241h1v1h-1zM484 242h1v2h-1zM634 242h1v1h-1zM786 242h2v1h-2zM876 242h1v1h-1zM635 243h2v1h-2zM784 243h2v1h-2zM877 243h1v1h-1zM285 244h1v3h-1zM483 244h1v3h-1zM637 244h1v1h-1zM782 244h2v1h-2zM878 244h1v2h-1zM638 245h1v1h-1zM780 245h2v1h-2zM639 246h1v1h-1zM778 246h2v1h-2zM879 246h1v1h-1zM286 247h1v3h-1zM482 247h1v3h-1zM640 247h1v1h-1zM776 247h2v1h-2zM880 247h1v1h-1zM641 248h2v1h-2zM774 248h2v1h-2zM881 248h1v1h-1zM643 249h1v1h-1zM730 249h44v1h-44zM882 249h1v1h-1zM287 250h1v3h-1zM481 250h1v2h-1zM644 250h1v1h-1zM728 250h2v1h-2zM883 250h1v1h-1zM645 251h2v1h-2zM725 251h3v1h-3zM884 251h1v1h-1zM480 252h1v3h-1zM647 252h2v1h-2zM723 252h2v1h-2zM885 252h2v1h-2zM288 253h1v2h-1zM649 253h2v1h-2zM703 253h7v1h-7zM720 253h3v1h-3zM887 253h1v1h-1zM651 254h2v1h-2zM695 254h8v1h-8zM710 254h4v1h-4zM718 254h2v1h-2zM888 254h1v1h-1zM289 255h1v3h-1zM479 255h1v3h-1zM653 255h2v1h-2zM686 255h9v1h-9zM714 255h4v1h-4zM889 255h1v1h-1zM655 256h2v1h-2zM677 256h9v1h-9zM890 256h1v1h-1zM657 257h2v1h-2zM670 257h7v1h-7zM891 257h1v1h-1zM290 258h1v4h-1zM478 258h1v2h-1zM659 258h2v1h-2zM664 258h6v1h-6zM892 258h1v1h-1zM661 259h3v1h-3zM893 259h1v1h-1zM477 260h1v4h-1zM894 260h1v1h-1zM895 261h2v1h-2zM291 262h1v3h-1zM897 262h1v1h-1zM898 263h1v1h-1zM476 264h1v4h-1zM899 264h1v1h-1zM292 265h1v4h-1zM900 265h1v1h-1zM901 266h1v1h-1zM902 267h1v1h-1zM475 268h1v4h-1zM903 268h2v1h-2zM293 269h1v3h-1zM905 269h1v1h-1zM906 270h1v1h-1zM907 271h1v1h-1zM294 272h1v4h-1zM474 272h1v5h-1zM908 272h2v1h-2zM910 273h1v1h-1zM911 274h2v1h-2zM913 275h1v1h-1zM295 276h1v3h-1zM914 276h2v1h-2zM473 277h1v4h-1zM916 277h1v1h-1zM917 278h2v1h-2zM296 279h1v3h-1zM919 279h1v1h-1zM920 280h2v1h-2zM472 281h1v6h-1zM922 281h1v1h-1zM297 282h1v3h-1zM923 282h2v1h-2zM925 283h1v1h-1zM926 284h1v1h-1zM298 285h1v2h-1zM927 285h1v1h-1zM1162 285h11v1h-11zM928 286h2v1h-2zM1161 286h1v1h-1zM1173 286h1v2h-1zM299 287h1v3h-1zM471 287h1v6h-1zM930 287h1v1h-1zM1160 287h1v1h-1zM931 288h1v1h-1zM1158 288h2v1h-2zM1174 288h1v1h-1zM932 289h1v1h-1zM1157 289h1v1h-1zM1175 289h1v1h-1zM300 290h1v3h-1zM933 290h1v1h-1zM1156 290h1v1h-1zM1176 290h1v2h-1zM934 291h1v1h-1zM1155 291h1v2h-1zM935 292h2v1h-2zM1177 292h1v1h-1zM301 293h1v3h-1zM470 293h1v6h-1zM937 293h1v1h-1zM1154 293h1v2h-1zM1178 293h1v2h-1zM938 294h1v1h-1zM939 295h1v2h-1zM1153 295h1v2h-1zM1179 295h1v2h-1zM302 296h1v3h-1zM940 297h1v3h-1zM1152 297h1v2h-1zM1180 297h1v2h-1zM303 299h1v3h-1zM469 299h1v4h-1zM1151 299h1v2h-1zM1181 299h1v2h-1zM941 300h1v2h-1zM1150 301h1v2h-1zM1182 301h1v2h-1zM304 302h1v2h-1zM942 302h1v3h-1zM468 303h1v2h-1zM1149 303h1v2h-1zM1183 303h1v2h-1zM305 304h1v3h-1zM467 305h1v2h-1zM943 305h1v3h-1zM1148 305h1v2h-1zM1184 305h1v1h-1zM1185 306h1v1h-1zM306 307h1v3h-1zM466 307h1v2h-1zM1147 307h1v2h-1zM1186 307h1v1h-1zM944 308h1v2h-1zM1187 308h1v2h-1zM465 309h1v2h-1zM1146 309h1v2h-1zM307 310h1v3h-1zM945 310h1v3h-1zM1188 310h1v1h-1zM464 311h1v2h-1zM1145 311h1v2h-1zM1189 311h1v1h-1zM1190 312h1v1h-1zM308 313h1v3h-1zM463 313h1v2h-1zM946 313h1v4h-1zM1144 313h1v2h-1zM1191 313h2v1h-2zM1193 314h4v1h-4zM462 315h1v2h-1zM1143 315h1v2h-1zM1197 315h4v1h-4zM309 316h1v3h-1zM1201 316h2v1h-2zM461 317h1v2h-1zM947 317h1v3h-1zM1142 317h1v3h-1zM1203 317h1v1h-1zM1204 318h2v1h-2zM310 319h1v3h-1zM460 319h1v2h-1zM1206 319h1v1h-1zM948 320h1v4h-1zM1141 320h1v2h-1zM1207 320h1v1h-1zM459 321h1v1h-1zM1208 321h2v1h-2zM311 322h1v3h-1zM458 322h1v2h-1zM1140 322h1v2h-1zM1210 322h1v1h-1zM1211 323h1v1h-1zM457 324h1v2h-1zM949 324h1v3h-1zM1139 324h1v2h-1zM1212 324h1v1h-1zM312 325h1v3h-1zM1213 325h1v1h-1zM456 326h1v2h-1zM1138 326h1v2h-1zM1214 326h1v1h-1zM950 327h1v4h-1zM1215 327h1v1h-1zM313 328h1v3h-1zM455 328h1v1h-1zM1137 328h1v3h-1zM1216 328h1v1h-1zM393 329h4v1h-4zM454 329h1v2h-1zM1217 329h1v1h-1zM389 330h4v1h-4zM397 330h4v1h-4zM1218 330h1v1h-1zM314 331h1v4h-1zM386 331h3v1h-3zM401 331h4v1h-4zM453 331h1v2h-1zM951 331h1v3h-1zM1136 331h1v2h-1zM1219 331h1v1h-1zM382 332h4v1h-4zM405 332h4v1h-4zM1220 332h2v1h-2zM380 333h2v1h-2zM409 333h2v1h-2zM452 333h1v1h-1zM1135 333h1v2h-1zM1222 333h3v1h-3zM379 334h1v1h-1zM411 334h1v1h-1zM451 334h1v2h-1zM952 334h1v3h-1zM1225 334h3v1h-3zM1242 334h5v1h-5zM315 335h1v5h-1zM377 335h2v1h-2zM412 335h1v1h-1zM1134 335h1v2h-1zM1228 335h3v1h-3zM1236 335h6v1h-6zM1247 335h2v1h-2zM376 336h1v1h-1zM413 336h1v1h-1zM450 336h1v1h-1zM1231 336h5v1h-5zM1249 336h2v1h-2zM375 337h1v1h-1zM414 337h2v1h-2zM449 337h1v1h-1zM953 337h1v2h-1zM1133 337h1v2h-1zM1251 337h1v1h-1zM373 338h2v1h-2zM416 338h1v1h-1zM448 338h1v2h-1zM1252 338h1v1h-1zM372 339h1v1h-1zM417 339h1v1h-1zM954 339h1v3h-1zM1132 339h1v2h-1zM1253 339h1v1h-1zM316 340h1v4h-1zM371 340h1v1h-1zM418 340h1v1h-1zM447 340h1v1h-1zM1254 340h2v1h-2zM369 341h2v1h-2zM419 341h1v1h-1zM446 341h1v2h-1zM1131 341h1v2h-1zM1256 341h1v1h-1zM368 342h1v1h-1zM420 342h1v1h-1zM955 342h1v3h-1zM1257 342h1v1h-1zM367 343h1v1h-1zM421 343h2v1h-2zM443 343h3v1h-3zM1130 343h1v2h-1zM1258 343h1v1h-1zM317 344h1v3h-1zM365 344h2v1h-2zM423 344h2v1h-2zM438 344h5v1h-5zM1259 344h1v1h-1zM364 345h1v1h-1zM425 345h3v1h-3zM433 345h5v1h-5zM956 345h1v2h-1zM1129 345h1v2h-1zM1260 345h1v2h-1zM362 346h2v1h-2zM428 346h5v1h-5zM318 347h1v1h-1zM361 347h1v1h-1zM957 347h1v3h-1zM1128 347h1v2h-1zM1261 347h1v1h-1zM319 348h1v2h-1zM359 348h2v1h-2zM1262 348h1v2h-1zM358 349h1v1h-1zM1127 349h1v2h-1zM320 350h1v1h-1zM356 350h2v1h-2zM958 350h1v3h-1zM1263 350h1v1h-1zM321 351h1v1h-1zM354 351h2v1h-2zM1126 351h1v2h-1zM1264 351h1v2h-1zM322 352h1v1h-1zM352 352h2v1h-2zM323 353h1v2h-1zM350 353h2v1h-2zM959 353h1v2h-1zM1125 353h1v2h-1zM1265 353h1v1h-1zM348 354h2v1h-2zM1266 354h1v2h-1zM324 355h1v1h-1zM346 355h2v1h-2zM960 355h1v3h-1zM1124 355h1v2h-1zM325 356h1v1h-1zM344 356h2v1h-2zM1267 356h1v1h-1zM326 357h2v1h-2zM342 357h2v1h-2zM1123 357h1v2h-1zM1268 357h1v1h-1zM328 358h2v1h-2zM339 358h3v1h-3zM961 358h1v2h-1zM1269 358h1v2h-1zM330 359h2v1h-2zM335 359h4v1h-4zM1122 359h1v2h-1zM332 360h3v1h-3zM962 360h1v2h-1zM1270 360h1v1h-1zM1121 361h1v2h-1zM1271 361h1v1h-1zM963 362h1v2h-1zM1272 362h1v2h-1zM1120 363h1v2h-1zM964 364h1v2h-1zM1273 364h1v1h-1zM1119 365h1v2h-1zM1274 365h1v2h-1zM965 366h1v3h-1zM1118 367h1v2h-1zM1275 367h1v2h-1zM966 369h1v2h-1zM1117 369h1v2h-1zM1276 369h1v1h-1zM1277 370h1v2h-1zM967 371h1v2h-1zM1116 371h1v2h-1zM1278 372h1v2h-1zM968 373h1v2h-1zM1115 373h1v2h-1zM1279 374h1v3h-1zM969 375h1v2h-1zM1114 375h1v2h-1zM970 377h1v2h-1zM1113 377h1v2h-1zM1280 377h1v2h-1zM971 379h1v2h-1zM1112 379h1v3h-1zM1281 379h1v3h-1zM972 381h1v1h-1zM973 382h1v2h-1zM1111 382h1v2h-1zM1282 382h1v2h-1zM974 384h1v1h-1zM1110 384h1v2h-1zM1283 384h1v2h-1zM975 385h1v1h-1zM976 386h1v2h-1zM1109 386h1v2h-1zM1284 386h1v2h-1zM977 388h1v1h-1zM1108 388h1v2h-1zM1285 388h1v2h-1zM978 389h1v1h-1zM979 390h1v1h-1zM1018 390h5v1h-5zM1107 390h1v2h-1zM1286 390h1v2h-1zM980 391h1v1h-1zM1014 391h4v1h-4zM1023 391h4v1h-4zM981 392h1v1h-1zM1012 392h2v1h-2zM1027 392h4v1h-4zM1106 392h1v2h-1zM1287 392h1v3h-1zM982 393h1v2h-1zM1011 393h1v1h-1zM1031 393h24v1h-24zM1009 394h2v1h-2zM1055 394h4v1h-4zM1105 394h1v1h-1zM983 395h1v1h-1zM1008 395h1v1h-1zM1059 395h5v1h-5zM1104 395h1v1h-1zM1288 395h1v2h-1zM984 396h1v1h-1zM1006 396h2v1h-2zM1064 396h4v1h-4zM1103 396h1v2h-1zM985 397h1v1h-1zM1005 397h1v1h-1zM1068 397h5v1h-5zM1289 397h1v2h-1zM986 398h1v1h-1zM1003 398h2v1h-2zM1073 398h5v1h-5zM1102 398h1v1h-1zM987 399h2v1h-2zM1002 399h1v1h-1zM1078 399h4v1h-4zM1101 399h1v1h-1zM1290 399h1v2h-1zM989 400h2v1h-2zM1000 400h2v1h-2zM1082 400h19v1h-19zM991 401h2v1h-2zM999 401h1v1h-1zM1291 401h1v2h-1zM993 402h2v1h-2zM997 402h2v1h-2zM995 403h2v1h-2zM1292 403h1v4h-1zM1293 407h1v3h-1zM1294 410h1v3h-1zM1295 413h1v4h-1zM1296 417h1v3h-1zM1297 420h1v3h-1zM1298 423h1v3h-1zM1299 426h1v3h-1zM1300 429h1v3h-1zM1301 432h1v3h-1zM1302 435h1v3h-1zM1303 438h1v3h-1zM1304 441h1v3h-1zM1305 444h1v3h-1zM1306 447h1v3h-1zM1307 450h1v3h-1zM1308 453h1v2h-1zM1309 455h1v3h-1zM1310 458h1v3h-1zM1311 461h1v3h-1zM1312 464h1v3h-1zM1313 467h1v2h-1zM1314 469h1v2h-1zM1315 471h1v2h-1zM1316 473h1v2h-1zM1317 475h1v2h-1zM1318 477h1v2h-1zM1319 479h1v2h-1zM1320 481h1v3h-1zM1321 484h1v2h-1zM1322 486h1v3h-1zM1323 489h1v2h-1zM1324 491h1v3h-1zM1325 494h1v3h-1zM1326 497h1v2h-1zM1327 499h1v3h-1zM1328 502h1v2h-1zM1329 504h1v3h-1zM1330 507h1v2h-1zM1331 509h1v3h-1zM1332 512h1v2h-1zM1333 514h1v3h-1zM1334 517h1v2h-1zM1335 519h1v3h-1zM1336 522h1v2h-1zM1337 524h1v2h-1zM1338 526h1v2h-1zM1339 528h1v2h-1zM1340 530h1v1h-1zM1341 531h1v2h-1zM1342 533h1v2h-1zM1343 535h1v2h-1zM1344 537h1v1h-1zM1345 538h1v2h-1zM1346 540h1v2h-1zM1411 540h1v1h-1zM1409 541h2v1h-2zM1347 542h1v1h-1zM1408 542h1v1h-1zM1348 543h1v1h-1zM1406 543h2v1h-2zM1349 544h1v1h-1zM1405 544h1v1h-1zM1350 545h1v1h-1zM1404 545h1v1h-1zM1351 546h2v1h-2zM1403 546h1v1h-1zM1353 547h1v1h-1zM1402 547h1v1h-1zM1354 548h1v1h-1zM1400 548h2v1h-2zM1355 549h1v1h-1zM1399 549h1v1h-1zM1356 550h1v1h-1zM1398 550h1v1h-1zM1357 551h2v1h-2zM1397 551h1v1h-1zM1359 552h2v1h-2zM1396 552h1v1h-1zM1361 553h2v1h-2zM1395 553h1v1h-1zM1363 554h2v1h-2zM1394 554h1v1h-1zM1365 555h2v1h-2zM1393 555h1v2h-1zM1367 556h1v1h-1zM1368 557h2v1h-2zM1392 557h1v1h-1zM1370 558h2v1h-2zM1391 558h1v1h-1zM1372 559h2v1h-2zM1390 559h1v1h-1zM1374 560h2v1h-2zM1388 560h2v1h-2zM1376 561h2v1h-2zM1385 561h3v1h-3zM1378 562h2v1h-2zM1382 562h3v1h-3zM1380 563h2v1h-2z" fill="#3cb371" shape-rendering="crispEdges"/>
<rect x="1308" y="375" width="156" height="7" fill="#00ff00" shape-rendering="crispEdges"/>
<g shape-rendering="crispEdges" clip-path="url(#cm)">
<rect x="4" y="96" width="1" height="33" fill="#000"/>
<rect x="2" y="100" width="5" height="28" fill="#000"/>
<rect x="3" y="101" width="3" height="26" fill="#fff"/>
<rect x="60" y="100" width="1" height="14" fill="#000"/>
<rect x="58" y="100" width="5" height="6" fill="#000"/>
<rect x="84" y="100" width="1" height="19" fill="#000"/>
<rect x="82" y="100" width="5" height="11" fill="#000"/>
<rect x="92" y="100" width="1" height="38" fill="#000"/>
<rect x="90" y="103" width="5" height="8" fill="#000"/>
<rect x="91" y="104" width="3" height="6" fill="#fff"/>
<rect x="100" y="100" width="1" height="5" fill="#000"/>
<rect x="98" y="100" width="5" height="4" fill="#000"/>
<rect x="140" y="100" width="1" height="22" fill="#000"/>
<rect x="138" y="100" width="5" height="16" fill="#000"/>
<rect x="148" y="100" width="1" height="16" fill="#000"/>
<rect x="146" y="100" width="5" height="16" fill="#000"/>
<rect x="147" y="101" width="3" height="14" fill="#fff"/>
<rect x="204" y="100" width="1" height="11" fill="#000"/>
<rect x="212" y="100" width="1" height="10" fill="#000"/>
<rect x="220" y="90" width="1" height="19" fill="#000"/>
<rect x="218" y="91" width="5" height="2" fill="#000"/>
<rect x="228" y="86" width="1" height="36" fill="#000"/>
<rect x="226" y="92" width="5" height="29" fill="#000"/>
<rect x="236" y="105" width="1" height="33" fill="#000"/>
<rect x="234" y="120" width="5" height="10" fill="#000"/>
<rect x="244" y="126" width="1" height="79" fill="#000"/>
<rect x="242" y="130" width="5" height="70" fill="#000"/>
<rect x="252" y="188" width="1" height="35" fill="#000"/>
<rect x="250" y="197" width="5" height="4" fill="#000"/>
<rect x="251" y="198" width="3" height="2" fill="#fff"/>
<rect x="260" y="175" width="1" height="29" fill="#000"/>
<rect x="258" y="177" width="5" height="20" fill="#000"/>
<rect x="259" y="178" width="3" height="18" fill="#fff"/>
<rect x="268" y="175" width="1" height="26" fill="#000"/>
<rect x="266" y="177" width="5" height="23" fill="#000"/>
<rect x="276" y="199" width="1" height="74" fill="#000"/>
<rect x="274" y="199" width="5" height="50" fill="#000"/>
<rect x="284" y="215" width="1" height="44" fill="#000"/>
<rect x="282" y="235" width="5" height="14" fill="#000"/>
<rect x="283" y="236" width="3" height="12" fill="#fff"/>
<rect x="292" y="235" width="1" height="62" fill="#000"/>
<rect x="290" y="235" width="5" height="53" fill="#000"/>
<rect x="300" y="277" width="1" height="17" fill="#000"/>
<rect x="298" y="287" width="5" height="5" fill="#000"/>
<rect x="308" y="282" width="1" height="9" fill="#000"/>
<rect x="306" y="287" width="5" height="4" fill="#000"/>
<rect x="307" y="288" width="3" height="2" fill="#fff"/>
<rect x="316" y="274" width="1" height="82" fill="#000"/>
<rect x="314" y="287" width="5" height="58" fill="#000"/>
<rect x="324" y="288" width="1" height="64" fill="#000"/>
<rect x="322" y="291" width="5" height="55" fill="#000"/>
<rect x="323" y="292" width="3" height="53" fill="#fff"/>
<rect x="332" y="239" width="1" height="60" fill="#000"/>
<rect x="330" y="249" width="5" height="42" fill="#000"/>
<rect x="331" y="250" width="3" height="40" fill="#fff"/>
<rect x="340" y="203" width="1" height="56" fill="#000"/>
<rect x="338" y="207" width="5" height="43" fill="#000"/>
<rect x="339" y="208" width="3" height="41" fill="#fff"/>
<rect x="348" y="181" width="1" height="29" fill="#000"/>
<rect x="346" y="186" width="5" height="21" fill="#000"/>
<rect x="347" y="187" width="3" height="19" fill="#fff"/>
<rect x="356" y="177" width="1" height="14" fill="#000"/>
<rect x="354" y="183" width="5" height="4" fill="#000"/>
<rect x="355" y="184" width="3" height="2" fill="#fff"/>
<rect x="364" y="181" width="1" height="34" fill="#000"/>
<rect x="362" y="182" width="5" height="6" fill="#000"/>
<rect x="372" y="184" width="1" height="29" fill="#000"/>
<rect x="370" y="187" width="5" height="17" fill="#000"/>
<rect x="380" y="182" width="1" height="45" fill="#000"/>
<rect x="378" y="187" width="5" height="17" fill="#000"/>
<rect x="379" y="188" width="3" height="15" fill="#fff"/>
<rect x="388" y="141" width="1" height="56" fill="#000"/>
<rect x="386" y="148" width="5" height="40" fill="#000"/>
<rect x="387" y="149" width="3" height="38" fill="#fff"/>
<rect x="396" y="126" width="1" height="24" fill="#000"/>
<rect x="394" y="137" width="5" height="12" fill="#000"/>
<rect x="395" y="138" width="3" height="10" fill="#fff"/>
<rect x="404" y="130" width="1" height="10" fill="#000"/>
<rect x="402" y="134" width="5" height="4" fill="#000"/>
<rect x="403" y="135" width="3" height="2" fill="#fff"/>
<rect x="412" y="124" width="1" height="20" fill="#000"/>
<rect x="410" y="134" width="5" height="6" fill="#000"/>
<rect x="420" y="79" width="1" height="62" fill="#000"/>
<rect x="418" y="87" width="5" height="53" fill="#000"/>
<rect x="419" y="88" width="3" height="51" fill="#fff"/>
<rect x="428" y="76" width="1" height="45" fill="#000"/>
<rect x="426" y="88" width="5" height="8" fill="#000"/>
<rect x="436" y="76" width="1" height="37" fill="#000"/>
<rect x="434" y="92" width="5" height="4" fill="#000"/>
<rect x="435" y="93" width="3" height="2" fill="#fff"/>
<rect x="444" y="84" width="1" height="15" fill="#000"/>
<rect x="442" y="92" width="5" height="4" fill="#000"/>
<rect x="452" y="83" width="1" height="14" fill="#000"/>
<rect x="450" y="84" width="5" height="12" fill="#000"/>
<rect x="451" y="85" width="3" height="10" fill="#fff"/>
<rect x="460" y="77" width="1" height="20" fill="#000"/>
<rect x="458" y="84" width="5" height="10" fill="#000"/>
<rect x="468" y="89" width="1" height="28" fill="#000"/>
<rect x="466" y="93" width="5" height="13" fill="#000"/>
<rect x="476" y="84" width="1" height="70" fill="#000"/>
<rect x="474" y="105" width="5" height="45" fill="#000"/>
<rect x="484" y="141" width="1" height="33" fill="#000"/>
<rect x="482" y="144" width="5" height="7" fill="#000"/>
<rect x="483" y="145" width="3" height="5" fill="#fff"/>
<rect x="492" y="124" width="1" height="24" fill="#000"/>
<rect x="490" y="127" width="5" height="18" fill="#000"/>
<rect x="491" y="128" width="3" height="16" fill="#fff"/>
<rect x="500" y="124" width="1" height="22" fill="#000"/>
<rect x="498" y="127" width="5" height="8" fill="#000"/>
<rect x="508" y="121" width="1" height="15" fill="#000"/>
<rect x="506" y="130" width="5" height="5" fill="#000"/>
<rect x="507" y="131" width="3" height="3" fill="#fff"/>
<rect x="516" y="129" width="1" height="33" fill="#000"/>
<rect x="514" y="130" width="5" height="27" fill="#000"/>
<rect x="524" y="152" width="1" height="22" fill="#000"/>
<rect x="522" y="155" width="5" height="15" fill="#000"/>
<rect x="532" y="147" width="1" height="43" fill="#000"/>
<rect x="530" y="162" width="5" height="8" fill="#000"/>
<rect x="531" y="163" width="3" height="6" fill="#fff"/>
<rect x="540" y="151" width="1" height="28" fill="#000"/>
<rect x="538" y="162" width="5" height="14" fill="#000"/>
<rect x="548" y="160" width="1" height="10" fill="#000"/>
<rect x="546" y="161" width="5" height="8" fill="#000"/>
<rect x="547" y="162" width="3" height="6" fill="#fff"/>
<rect x="556" y="162" width="1" height="29" fill="#000"/>
<rect x="554" y="162" width="5" height="27" fill="#000"/>
<rect x="564" y="143" width="1" height="45" fill="#000"/>
<rect x="562" y="153" width="5" height="35" fill="#000"/>
<rect x="563" y="154" width="3" height="33" fill="#fff"/>
<rect x="572" y="144" width="1" height="29" fill="#000"/>
<rect x="570" y="153" width="5" height="2" fill="#000"/>
<rect x="580" y="144" width="1" height="58" fill="#000"/>
<rect x="578" y="154" width="5" height="39" fill="#000"/>
<rect x="588" y="192" width="1" height="14" fill="#000"/>
<rect x="586" y="192" width="5" height="9" fill="#000"/>
<rect x="596" y="192" width="1" height="11" fill="#000"/>
<rect x="594" y="196" width="5" height="5" fill="#000"/>
<rect x="595" y="197" width="3" height="3" fill="#fff"/>
<rect x="604" y="195" width="1" height="29" fill="#000"/>
<rect x="602" y="196" width="5" height="21" fill="#000"/>
<rect x="612" y="197" width="1" height="21" fill="#000"/>
<rect x="610" y="204" width="5" height="13" fill="#000"/>
<rect x="611" y="205" width="3" height="11" fill="#fff"/>
<rect x="620" y="199" width="1" height="48" fill="#000"/>
<rect x="618" y="204" width="5" height="34" fill="#000"/>
<rect x="628" y="224" width="1" height="38" fill="#000"/>
<rect x="626" y="230" width="5" height="8" fill="#000"/>
<rect x="627" y="231" width="3" height="6" fill="#fff"/>
<rect x="636" y="223" width="1" height="13" fill="#000"/>
<rect x="634" y="225" width="5" height="5" fill="#000"/>
<rect x="635" y="226" width="3" height="3" fill="#fff"/>
<rect x="644" y="224" width="1" height="25" fill="#000"/>
<rect x="642" y="225" width="5" height="9" fill="#000"/>
<rect x="652" y="218" width="1" height="18" fill="#000"/>
<rect x="650" y="229" width="5" height="7" fill="#000"/>
<rect x="651" y="230" width="3" height="5" fill="#fff"/>
<rect x="660" y="227" width="1" height="29" fill="#000"/>
<rect x="658" y="229" width="5" height="12" fill="#000"/>
<rect x="668" y="212" width="1" height="46" fill="#000"/>
<rect x="666" y="213" width="5" height="28" fill="#000"/>
<rect x="667" y="214" width="3" height="26" fill="#fff"/>
<rect x="676" y="202" width="1" height="37" fill="#000"/>
<rect x="674" y="211" width="5" height="3" fill="#000"/>
<rect x="675" y="212" width="3" height="1" fill="#fff"/>
<rect x="684" y="184" width="1" height="31" fill="#000"/>
<rect x="682" y="184" width="5" height="28" fill="#000"/>
<rect x="683" y="185" width="3" height="26" fill="#fff"/>
<rect x="692" y="178" width="1" height="16" fill="#000"/>
<rect x="690" y="184" width="5" height="2" fill="#000"/>
<rect x="700" y="183" width="1" height="25" fill="#000"/>
<rect x="698" y="184" width="5" height="12" fill="#000"/>
<rect x="708" y="167" width="1" height="35" fill="#000"/>
<rect x="706" y="176" width="5" height="21" fill="#000"/>
<rect x="707" y="177" width="3" height="19" fill="#fff"/>
<rect x="716" y="163" width="1" height="40" fill="#000"/>
<rect x="714" y="165" width="5" height="12" fill="#000"/>
<rect x="715" y="166" width="3" height="10" fill="#fff"/>
<rect x="724" y="163" width="1" height="31" fill="#000"/>
<rect x="722" y="165" width="5" height="17" fill="#000"/>
<rect x="732" y="179" width="1" height="23" fill="#000"/>
<rect x="730" y="181" width="5" height="18" fill="#000"/>
<rect x="740" y="194" width="1" height="12" fill="#000"/>
<rect x="738" y="196" width="5" height="4" fill="#000"/>
<rect x="739" y="197" width="3" height="2" fill="#fff"/>
<rect x="748" y="181" width="1" height="16" fill="#000"/>
<rect x="746" y="188" width="5" height="9" fill="#000"/>
<rect x="747" y="189" width="3" height="7" fill="#fff"/>
<rect x="756" y="181" width="1" height="21" fill="#000"/>
<rect x="754" y="188" width="5" height="8" fill="#000"/>
<rect x="764" y="191" width="1" height="37" fill="#000"/>
<rect x="762" y="195" width="5" height="28" fill="#000"/>
<rect x="772" y="193" width="1" height="34" fill="#000"/>
<rect x="770" y="196" width="5" height="27" fill="#000"/>
<rect x="771" y="197" width="3" height="25" fill="#fff"/>
<rect x="780" y="182" width="1" height="19" fill="#000"/>
<rect x="778" y="186" width="5" height="12" fill="#000"/>
<rect x="779" y="187" width="3" height="10" fill="#fff"/>
<rect x="788" y="178" width="1" height="4" fill="#000"/>
<rect x="786" y="180" width="5" height="1" fill="#000"/>
<rect x="796" y="180" width="1" height="14" fill="#000"/>
<rect x="794" y="180" width="5" height="11" fill="#000"/>
<rect x="804" y="180" width="1" height="15" fill="#000"/>
<rect x="802" y="190" width="5" height="1" fill="#000"/>
<rect x="812" y="184" width="1" height="16" fill="#000"/>
<rect x="810" y="190" width="5" height="2" fill="#000"/>
<rect x="820" y="184" width="1" height="12" fill="#000"/>
<rect x="818" y="187" width="5" height="4" fill="#000"/>
<rect x="819" y="188" width="3" height="2" fill="#fff"/>
<rect x="828" y="180" width="1" height="17" fill="#000"/>
<rect x="826" y="185" width="5" height="2" fill="#000"/>
<rect x="836" y="180" width="1" height="21" fill="#000"/>
<rect x="834" y="185" width="5" height="1" fill="#000"/>
<rect x="844" y="163" width="1" height="31" fill="#000"/>
<rect x="842" y="168" width="5" height="18" fill="#000"/>
<rect x="843" y="169" width="3" height="16" fill="#fff"/>
<rect x="852" y="155" width="1" height="32" fill="#000"/>
<rect x="850" y="168" width="5" height="18" fill="#000"/>
<rect x="860" y="184" width="1" height="35" fill="#000"/>
<rect x="858" y="186" width="5" height="25" fill="#000"/>
<rect x="868" y="195" width="1" height="82" fill="#000"/>
<rect x="866" y="210" width="5" height="51" fill="#000"/>
<rect x="876" y="252" width="1" height="29" fill="#000"/>
<rect x="874" y="258" width="5" height="3" fill="#000"/>
<rect x="875" y="259" width="3" height="1" fill="#fff"/>
<rect x="884" y="253" width="1" height="9" fill="#000"/>
<rect x="882" y="258" width="5" height="1" fill="#000"/>
<rect x="892" y="257" width="1" height="26" fill="#000"/>
<rect x="890" y="257" width="5" height="3" fill="#000"/>
<rect x="900" y="235" width="1" height="41" fill="#000"/>
<rect x="898" y="256" width="5" height="4" fill="#000"/>
<rect x="899" y="257" width="3" height="2" fill="#fff"/>
<rect x="908" y="220" width="1" height="45" fill="#000"/>
<rect x="906" y="227" width="5" height="30" fill="#000"/>
<rect x="907" y="228" width="3" height="28" fill="#fff"/>
<rect x="916" y="225" width="1" height="61" fill="#000"/>
<rect x="914" y="227" width="5" height="39" fill="#000"/>
<rect x="924" y="249" width="1" height="18" fill="#000"/>
<rect x="922" y="260" width="5" height="4" fill="#000"/>
<rect x="923" y="261" width="3" height="2" fill="#fff"/>
<rect x="932" y="252" width="1" height="10" fill="#000"/>
<rect x="930" y="257" width="5" height="4" fill="#000"/>
<rect x="931" y="258" width="3" height="2" fill="#fff"/>
<rect x="940" y="256" width="1" height="36" fill="#000"/>
<rect x="938" y="257" width="5" height="22" fill="#000"/>
<rect x="948" y="276" width="1" height="91" fill="#000"/>
<rect x="946" y="278" width="5" height="82" fill="#000"/>
<rect x="956" y="324" width="1" height="57" fill="#000"/>
<rect x="954" y="359" width="5" height="19" fill="#000"/>
<rect x="964" y="360" width="1" height="43" fill="#000"/>
<rect x="962" y="365" width="5" height="13" fill="#000"/>
<rect x="963" y="366" width="3" height="11" fill="#fff"/>
<rect x="972" y="351" width="1" height="19" fill="#000"/>
<rect x="970" y="356" width="5" height="9" fill="#000"/>
<rect x="971" y="357" width="3" height="7" fill="#fff"/>
<rect x="980" y="341" width="1" height="26" fill="#000"/>
<rect x="978" y="349" width="5" height="7" fill="#000"/>
<rect x="979" y="350" width="3" height="5" fill="#fff"/>
<rect x="988" y="337" width="1" height="30" fill="#000"/>
<rect x="986" y="349" width="5" height="2" fill="#000"/>
<rect x="996" y="328" width="1" height="27" fill="#000"/>
<rect x="994" y="337" width="5" height="12" fill="#000"/>
<rect x="995" y="338" width="3" height="10" fill="#fff"/>
<rect x="1004" y="295" width="1" height="45" fill="#000"/>
<rect x="1002" y="301" width="5" height="36" fill="#000"/>
<rect x="1003" y="302" width="3" height="34" fill="#fff"/>
<rect x="1012" y="247" width="1" height="55" fill="#000"/>
<rect x="1010" y="270" width="5" height="32" fill="#000"/>
<rect x="1011" y="271" width="3" height="30" fill="#fff"/>
<rect x="1020" y="231" width="1" height="40" fill="#000"/>
<rect x="1018" y="233" width="5" height="38" fill="#000"/>
<rect x="1019" y="234" width="3" height="36" fill="#fff"/>
<rect x="1028" y="216" width="1" height="13" fill="#000"/>
<rect x="1026" y="219" width="5" height="3" fill="#000"/>
<rect x="1027" y="220" width="3" height="1" fill="#fff"/>
<rect x="1036" y="215" width="1" height="24" fill="#000"/>
<rect x="1034" y="220" width="5" height="15" fill="#000"/>
<rect x="1044" y="222" width="1" height="40" fill="#000"/>
<rect x="1042" y="235" width="5" height="21" fill="#000"/>
<rect x="1052" y="247" width="1" height="30" fill="#000"/>
<rect x="1050" y="255" width="5" height="10" fill="#000"/>
<rect x="1060" y="208" width="1" height="64" fill="#000"/>
<rect x="1058" y="215" width="5" height="49" fill="#000"/>
<rect x="1059" y="216" width="3" height="47" fill="#fff"/>
<rect x="1068" y="215" width="1" height="15" fill="#000"/>
<rect x="1066" y="215" width="5" height="5" fill="#000"/>
<rect x="1076" y="215" width="1" height="7" fill="#000"/>
<rect x="1074" y="218" width="5" height="2" fill="#000"/>
<rect x="1084" y="198" width="1" height="23" fill="#000"/>
<rect x="1082" y="203" width="5" height="15" fill="#000"/>
<rect x="1083" y="204" width="3" height="13" fill="#fff"/>
<rect x="1092" y="200" width="1" height="35" fill="#000"/>
<rect x="1090" y="203" width="5" height="30" fill="#000"/>
<rect x="1100" y="230" width="1" height="37" fill="#000"/>
<rect x="1098" y="232" width="5" height="28" fill="#000"/>
<rect x="1108" y="244" width="1" height="32" fill="#000"/>
<rect x="1106" y="247" width="5" height="12" fill="#000"/>
<rect x="1107" y="248" width="3" height="10" fill="#fff"/>
<rect x="1116" y="236" width="1" height="18" fill="#000"/>
<rect x="1114" y="247" width="5" height="4" fill="#000"/>
<rect x="1124" y="244" width="1" height="14" fill="#000"/>
<rect x="1122" y="250" width="5" height="7" fill="#000"/>
<rect x="1132" y="243" width="1" height="19" fill="#000"/>
<rect x="1130" y="255" width="5" height="3" fill="#000"/>
<rect x="1131" y="256" width="3" height="1" fill="#fff"/>
<rect x="1140" y="226" width="1" height="36" fill="#000"/>
<rect x="1138" y="239" width="5" height="16" fill="#000"/>
<rect x="1139" y="240" width="3" height="14" fill="#fff"/>
<rect x="1148" y="211" width="1" height="34" fill="#000"/>
<rect x="1146" y="226" width="5" height="13" fill="#000"/>
<rect x="1147" y="227" width="3" height="11" fill="#fff"/>
<rect x="1156" y="222" width="1" height="56" fill="#000"/>
<rect x="1154" y="226" width="5" height="49" fill="#000"/>
<rect x="1164" y="269" width="1" height="13" fill="#000"/>
<rect x="1162" y="275" width="5" height="3" fill="#000"/>
<rect x="1172" y="273" width="1" height="11" fill="#000"/>
<rect x="1170" y="276" width="5" height="2" fill="#000"/>
<rect x="1180" y="273" width="1" height="46" fill="#000"/>
<rect x="1178" y="276" width="5" height="33" fill="#000"/>
<rect x="1188" y="283" width="1" height="51" fill="#000"/>
<rect x="1186" y="308" width="5" height="22" fill="#000"/>
<rect x="1196" y="247" width="1" height="87" fill="#000"/>
<rect x="1194" y="263" width="5" height="67" fill="#000"/>
<rect x="1195" y="264" width="3" height="65" fill="#fff"/>
<rect x="1204" y="259" width="1" height="41" fill="#000"/>
<rect x="1202" y="264" width="5" height="13" fill="#000"/>
<rect x="1212" y="274" width="1" height="60" fill="#000"/>
<rect x="1210" y="276" width="5" height="48" fill="#000"/>
<rect x="1220" y="311" width="1" height="16" fill="#000"/>
<rect x="1218" y="320" width="5" height="4" fill="#000"/>
<rect x="1219" y="321" width="3" height="2" fill="#fff"/>
<rect x="1228" y="290" width="1" height="35" fill="#000"/>
<rect x="1226" y="294" width="5" height="27" fill="#000"/>
<rect x="1227" y="295" width="3" height="25" fill="#fff"/>
<rect x="1236" y="287" width="1" height="33" fill="#000"/>
<rect x="1234" y="294" width="5" height="3" fill="#000"/>
<rect x="1244" y="261" width="1" height="43" fill="#000"/>
<rect x="1242" y="291" width="5" height="7" fill="#000"/>
<rect x="1243" y="292" width="3" height="5" fill="#fff"/>
<rect x="1252" y="272" width="1" height="57" fill="#000"/>
<rect x="1250" y="291" width="5" height="31" fill="#000"/>
<rect x="1260" y="317" width="1" height="25" fill="#000"/>
<rect x="1258" y="321" width="5" height="19" fill="#000"/>
<rect x="1268" y="351" width="1" height="16" fill="#000"/>
<rect x="1266" y="353" width="5" height="10" fill="#000"/>
<rect x="1276" y="359" width="1" height="18" fill="#000"/>
<rect x="1274" y="360" width="5" height="3" fill="#000"/>
<rect x="1275" y="361" width="3" height="1" fill="#fff"/>
<rect x="1284" y="356" width="1" height="50" fill="#000"/>
<rect x="1282" y="360" width="5" height="39" fill="#000"/>
<rect x="1292" y="384" width="1" height="54" fill="#000"/>
<rect x="1290" y="398" width="5" height="24" fill="#000"/>
<rect x="1300" y="422" width="1" height="79" fill="#000"/>
<rect x="1298" y="422" width="5" height="40" fill="#000"/>
<rect x="1308" y="462" width="1" height="31" fill="#000"/>
<rect x="1306" y="462" width="5" height="17" fill="#000"/>
<rect x="1316" y="469" width="1" height="16" fill="#000"/>
<rect x="1314" y="472" width="5" height="7" fill="#000"/>
<rect x="1315" y="473" width="3" height="5" fill="#fff"/>
<rect x="1324" y="453" width="1" height="32" fill="#000"/>
<rect x="1322" y="473" width="5" height="8" fill="#000"/>
<rect x="1332" y="469" width="1" height="36" fill="#000"/>
<rect x="1330" y="480" width="5" height="8" fill="#000"/>
<rect x="1340" y="454" width="1" height="75" fill="#000"/>
<rect x="1338" y="487" width="5" height="16" fill="#000"/>
<rect x="1348" y="474" width="1" height="90" fill="#000"/>
<rect x="1346" y="478" width="5" height="25" fill="#000"/>
<rect x="1347" y="479" width="3" height="23" fill="#fff"/>
<rect x="1356" y="465" width="1" height="19" fill="#000"/>
<rect x="1354" y="474" width="5" height="4" fill="#000"/>
<rect x="1355" y="475" width="3" height="2" fill="#fff"/>
<rect x="1364" y="460" width="1" height="20" fill="#000"/>
<rect x="1362" y="461" width="5" height="12" fill="#000"/>
<rect x="1363" y="462" width="3" height="10" fill="#fff"/>
<rect x="1372" y="454" width="1" height="31" fill="#000"/>
<rect x="1370" y="461" width="5" height="17" fill="#000"/>
<rect x="1380" y="455" width="1" height="48" fill="#000"/>
<rect x="1378" y="462" width="5" height="14" fill="#000"/>
<rect x="1379" y="463" width="3" height="12" fill="#fff"/>
<rect x="1388" y="447" width="1" height="31" fill="#000"/>
<rect x="1386" y="456" width="5" height="10" fill="#000"/>
<rect x="1387" y="457" width="3" height="8" fill="#fff"/>
<rect x="1396" y="382" width="1" height="76" fill="#000"/>
<rect x="1394" y="384" width="5" height="73" fill="#000"/>
<rect x="1395" y="385" width="3" height="71" fill="#fff"/>
<rect x="1404" y="353" width="1" height="31" fill="#000"/>
<rect x="1402" y="360" width="5" height="24" fill="#000"/>
<rect x="1403" y="361" width="3" height="22" fill="#fff"/>
<rect x="1412" y="356" width="1" height="11" fill="#000"/>
<rect x="1410" y="358" width="5" height="9" fill="#000"/>
</g>
<rect x="245.5" y="347.5" width="61" height="18" fill="#fff" stroke="#ff0000" stroke-width="1" shape-rendering="crispEdges"/>
<text x="276.3" y="363.3" font-size="17.0" fill="#ff0000" stroke="#ff0000" stroke-width="0" text-anchor="middle" transform="translate(276.3 0) scale(0.945 1) translate(-276.3 0)">151.291</text>
<rect x="307" y="356" width="10" height="1" fill="#ff0000" shape-rendering="crispEdges"/>
<rect x="893.5" y="394.5" width="61" height="18" fill="#fff" stroke="#ff0000" stroke-width="1" shape-rendering="crispEdges"/>
<text x="924.3" y="410.3" font-size="17.0" fill="#ff0000" stroke="#ff0000" stroke-width="0" text-anchor="middle" transform="translate(924.3 0) scale(0.945 1) translate(-924.3 0)">150.646</text>
<rect x="955" y="403" width="10" height="1" fill="#ff0000" shape-rendering="crispEdges"/>
<rect x="1013.5" y="187.5" width="61" height="18" fill="#fff" stroke="#ff0000" stroke-width="1" shape-rendering="crispEdges"/>
<text x="1044.3" y="203.3" font-size="17.0" fill="#ff0000" stroke="#ff0000" stroke-width="0" text-anchor="middle" transform="translate(1044.3 0) scale(0.945 1) translate(-1044.3 0)">153.491</text>
<rect x="1075" y="196" width="10" height="1" fill="#ff0000" shape-rendering="crispEdges"/>
<rect x="1277.5" y="555.5" width="61" height="18" fill="#fff" stroke="#ff0000" stroke-width="1" shape-rendering="crispEdges"/>
<text x="1308.3" y="571.3" font-size="17.0" fill="#ff0000" stroke="#ff0000" stroke-width="0" text-anchor="middle" transform="translate(1308.3 0) scale(0.945 1) translate(-1308.3 0)">148.448</text>
<rect x="1339" y="564" width="10" height="1" fill="#ff0000" shape-rendering="crispEdges"/>
<rect x="1159.5" y="368.5" width="73" height="24" fill="#fff" stroke="#ff0000" stroke-width="1" shape-rendering="crispEdges"/>
<text x="1196.3" y="389.1" font-size="21.6" fill="#ff0000" stroke="#ff0000" stroke-width="0.35" text-anchor="middle" transform="translate(1196.3 0) scale(0.915 1) translate(-1196.3 0)">150.968</text>
<rect x="1149" y="380" width="8" height="1" fill="#ff0000" shape-rendering="crispEdges"/>
<rect x="1156.5" y="378.5" width="2" height="3" fill="#fff" stroke="#ff0000" stroke-width="1" shape-rendering="crispEdges"/>
<rect x="1562.5" y="353.5" width="2" height="2" fill="#fff" stroke="#00ff00" stroke-width="1" shape-rendering="crispEdges"/>
<rect x="1509.5" y="355.5" width="110" height="24" fill="none" stroke="#303030" stroke-width="1" shape-rendering="crispEdges"/>
<text x="1509.5" y="374.6" font-size="21.2" fill="#00ff00" stroke="#00ff00" stroke-width="0.25" style="font-family:'Liberation Serif','Noto Serif CJK SC',serif">多空转折点</text>
<g shape-rendering="crispEdges">
<rect x="0" y="24" width="1655" height="1" fill="#000"/>
<rect x="1654" y="24" width="1" height="554" fill="#000"/>
<rect x="0" y="577" width="1655" height="1" fill="#000"/>
<rect x="0" y="579" width="1655" height="1" fill="#000"/>
<rect x="1654" y="579" width="1" height="171" fill="#000"/>
<rect x="0" y="749" width="1655" height="1" fill="#000"/>
<rect x="0" y="751" width="1655" height="1" fill="#000"/>
<rect x="1654" y="751" width="1" height="175" fill="#000"/>
<rect x="0" y="925" width="1655" height="1" fill="#000"/>
<rect x="1700" y="22" width="1" height="921" fill="#dcdcdc"/>
</g>
<polygon points="1415.5,25 1425.5,25 1420.5,30" fill="#c0c0c0"/>
<g font-size="9.3" fill="#000">
<text transform="translate(1659.7 50) scale(0.923 1)" font-size="10" fill="#000">155.550</text>
<rect x="1655" y="46" width="2" height="1" fill="#000" shape-rendering="crispEdges"/>
<text transform="translate(1659.7 83) scale(0.923 1)" font-size="10" fill="#000">155.090</text>
<rect x="1655" y="79" width="2" height="1" fill="#000" shape-rendering="crispEdges"/>
<text transform="translate(1659.7 116) scale(0.923 1)" font-size="10" fill="#000">154.640</text>
<rect x="1655" y="112" width="2" height="1" fill="#000" shape-rendering="crispEdges"/>
<text transform="translate(1659.7 149) scale(0.923 1)" font-size="10" fill="#000">154.190</text>
<rect x="1655" y="145" width="2" height="1" fill="#000" shape-rendering="crispEdges"/>
<text transform="translate(1659.7 182) scale(0.923 1)" font-size="10" fill="#000">153.740</text>
<rect x="1655" y="178" width="2" height="1" fill="#000" shape-rendering="crispEdges"/>
<text transform="translate(1659.7 215) scale(0.923 1)" font-size="10" fill="#000">153.280</text>
<rect x="1655" y="211" width="2" height="1" fill="#000" shape-rendering="crispEdges"/>
<text transform="translate(1659.7 248) scale(0.923 1)" font-size="10" fill="#000">152.830</text>
<rect x="1655" y="244" width="2" height="1" fill="#000" shape-rendering="crispEdges"/>
<text transform="translate(1659.7 281) scale(0.923 1)" font-size="10" fill="#000">152.380</text>
<rect x="1655" y="277" width="2" height="1" fill="#000" shape-rendering="crispEdges"/>
<text transform="translate(1659.7 314) scale(0.923 1)" font-size="10" fill="#000">151.920</text>
<rect x="1655" y="310" width="2" height="1" fill="#000" shape-rendering="crispEdges"/>
<text transform="translate(1659.7 347) scale(0.923 1)" font-size="10" fill="#000">151.470</text>
<rect x="1655" y="343" width="2" height="1" fill="#000" shape-rendering="crispEdges"/>
<text transform="translate(1659.7 380) scale(0.923 1)" font-size="10" fill="#000">151.010</text>
<rect x="1655" y="376" width="2" height="1" fill="#000" shape-rendering="crispEdges"/>
<text transform="translate(1659.7 413) scale(0.923 1)" font-size="10" fill="#000">150.570</text>
<rect x="1655" y="409" width="2" height="1" fill="#000" shape-rendering="crispEdges"/>
<text transform="translate(1659.7 446) scale(0.923 1)" font-size="10" fill="#000">150.110</text>
<rect x="1655" y="442" width="2" height="1" fill="#000" shape-rendering="crispEdges"/>
<text transform="translate(1659.7 479) scale(0.923 1)" font-size="10" fill="#000">149.660</text>
<rect x="1655" y="475" width="2" height="1" fill="#000" shape-rendering="crispEdges"/>
<text transform="translate(1659.7 512) scale(0.923 1)" font-size="10" fill="#000">149.210</text>
<rect x="1655" y="508" width="2" height="1" fill="#000" shape-rendering="crispEdges"/>
<text transform="translate(1659.7 545) scale(0.923 1)" font-size="10" fill="#000">148.760</text>
<rect x="1655" y="541" width="2" height="1" fill="#000" shape-rendering="crispEdges"/>
<text transform="translate(1659.7 578) scale(0.923 1)" font-size="10" fill="#000">148.300</text>
<rect x="1655" y="574" width="2" height="1" fill="#000" shape-rendering="crispEdges"/>
</g>
<rect x="1656" y="306" width="41" height="11" fill="#ff0000" shape-rendering="crispEdges"/>
<text transform="translate(1659.7 315) scale(0.923 1)" font-size="10" fill="#fff">151.899</text>
<rect x="1656" y="331" width="41" height="11" fill="#ff0000" shape-rendering="crispEdges"/>
<text transform="translate(1659.7 340) scale(0.923 1)" font-size="10" fill="#fff">151.557</text>
<rect x="1656" y="362" width="41" height="11" fill="#000000" shape-rendering="crispEdges"/>
<text transform="translate(1659.7 371) scale(0.923 1)" font-size="10" fill="#fff">151.151</text>
<rect x="1656" y="374" width="41" height="11" fill="#32cd32" shape-rendering="crispEdges"/>
<text transform="translate(1659.7 383) scale(0.923 1)" font-size="10" fill="#fff">150.968</text>
<rect x="1656" y="393" width="41" height="11" fill="#0000ff" shape-rendering="crispEdges"/>
<text transform="translate(1659.7 402) scale(0.923 1)" font-size="10" fill="#fff">150.708</text>
<rect x="1656" y="412" width="41" height="11" fill="#0000ff" shape-rendering="crispEdges"/>
<text transform="translate(1659.7 421) scale(0.923 1)" font-size="10" fill="#fff">150.448</text>
<rect x="1649.5" y="310.5" width="4" height="4" fill="#fff" stroke="#ff0000" stroke-width="1" shape-rendering="crispEdges"/>
<rect x="1649.5" y="335.5" width="4" height="4" fill="#fff" stroke="#ff0000" stroke-width="1" shape-rendering="crispEdges"/>
<rect x="1649.5" y="378.5" width="4" height="4" fill="#fff" stroke="#32cd32" stroke-width="1" shape-rendering="crispEdges"/>
<rect x="1649.5" y="397.5" width="4" height="4" fill="#fff" stroke="#0000ff" stroke-width="1" shape-rendering="crispEdges"/>
<rect x="1649.5" y="416.5" width="4" height="4" fill="#fff" stroke="#0000ff" stroke-width="1" shape-rendering="crispEdges"/>
<g shape-rendering="crispEdges">
<rect x="4" y="633" width="1" height="17" fill="#c0c0c0"/>
<rect x="12" y="633" width="1" height="15" fill="#c0c0c0"/>
<rect x="20" y="633" width="1" height="11" fill="#c0c0c0"/>
<rect x="28" y="633" width="1" height="7" fill="#c0c0c0"/>
<rect x="36" y="633" width="1" height="5" fill="#c0c0c0"/>
<rect x="44" y="633" width="1" height="3" fill="#c0c0c0"/>
<rect x="52" y="633" width="1" height="3" fill="#c0c0c0"/>
<rect x="60" y="633" width="1" height="4" fill="#c0c0c0"/>
<rect x="68" y="633" width="1" height="4" fill="#c0c0c0"/>
<rect x="76" y="633" width="1" height="4" fill="#c0c0c0"/>
<rect x="84" y="633" width="1" height="6" fill="#c0c0c0"/>
<rect x="92" y="633" width="1" height="5" fill="#c0c0c0"/>
<rect x="100" y="633" width="1" height="1" fill="#c0c0c0"/>
<rect x="108" y="631" width="1" height="3" fill="#c0c0c0"/>
<rect x="116" y="628" width="1" height="6" fill="#c0c0c0"/>
<rect x="124" y="625" width="1" height="9" fill="#c0c0c0"/>
<rect x="132" y="623" width="1" height="11" fill="#c0c0c0"/>
<rect x="140" y="629" width="1" height="5" fill="#c0c0c0"/>
<rect x="148" y="631" width="1" height="3" fill="#c0c0c0"/>
<rect x="156" y="631" width="1" height="3" fill="#c0c0c0"/>
<rect x="164" y="631" width="1" height="3" fill="#c0c0c0"/>
<rect x="172" y="631" width="1" height="3" fill="#c0c0c0"/>
<rect x="180" y="629" width="1" height="5" fill="#c0c0c0"/>
<rect x="188" y="628" width="1" height="6" fill="#c0c0c0"/>
<rect x="196" y="629" width="1" height="5" fill="#c0c0c0"/>
<rect x="204" y="631" width="1" height="3" fill="#c0c0c0"/>
<rect x="212" y="632" width="1" height="2" fill="#c0c0c0"/>
<rect x="228" y="633" width="1" height="5" fill="#c0c0c0"/>
<rect x="236" y="633" width="1" height="10" fill="#c0c0c0"/>
<rect x="244" y="633" width="1" height="24" fill="#c0c0c0"/>
<rect x="252" y="633" width="1" height="35" fill="#c0c0c0"/>
<rect x="260" y="633" width="1" height="40" fill="#c0c0c0"/>
<rect x="268" y="633" width="1" height="47" fill="#c0c0c0"/>
<rect x="276" y="633" width="1" height="59" fill="#c0c0c0"/>
<rect x="284" y="633" width="1" height="65" fill="#c0c0c0"/>
<rect x="292" y="633" width="1" height="77" fill="#c0c0c0"/>
<rect x="300" y="633" width="1" height="87" fill="#c0c0c0"/>
<rect x="308" y="633" width="1" height="92" fill="#c0c0c0"/>
<rect x="316" y="633" width="1" height="105" fill="#c0c0c0"/>
<rect x="324" y="633" width="1" height="105" fill="#c0c0c0"/>
<rect x="332" y="633" width="1" height="97" fill="#c0c0c0"/>
<rect x="340" y="633" width="1" height="85" fill="#c0c0c0"/>
<rect x="348" y="633" width="1" height="70" fill="#c0c0c0"/>
<rect x="356" y="633" width="1" height="57" fill="#c0c0c0"/>
<rect x="364" y="633" width="1" height="47" fill="#c0c0c0"/>
<rect x="372" y="633" width="1" height="42" fill="#c0c0c0"/>
<rect x="380" y="633" width="1" height="35" fill="#c0c0c0"/>
<rect x="388" y="633" width="1" height="23" fill="#c0c0c0"/>
<rect x="396" y="633" width="1" height="12" fill="#c0c0c0"/>
<rect x="404" y="633" width="1" height="1" fill="#c0c0c0"/>
<rect x="412" y="629" width="1" height="5" fill="#c0c0c0"/>
<rect x="420" y="616" width="1" height="18" fill="#c0c0c0"/>
<rect x="428" y="608" width="1" height="26" fill="#c0c0c0"/>
<rect x="436" y="601" width="1" height="33" fill="#c0c0c0"/>
<rect x="444" y="596" width="1" height="38" fill="#c0c0c0"/>
<rect x="452" y="591" width="1" height="43" fill="#c0c0c0"/>
<rect x="460" y="589" width="1" height="45" fill="#c0c0c0"/>
<rect x="468" y="590" width="1" height="44" fill="#c0c0c0"/>
<rect x="476" y="598" width="1" height="36" fill="#c0c0c0"/>
<rect x="484" y="603" width="1" height="31" fill="#c0c0c0"/>
<rect x="492" y="605" width="1" height="29" fill="#c0c0c0"/>
<rect x="500" y="609" width="1" height="25" fill="#c0c0c0"/>
<rect x="508" y="611" width="1" height="23" fill="#c0c0c0"/>
<rect x="516" y="617" width="1" height="17" fill="#c0c0c0"/>
<rect x="524" y="623" width="1" height="11" fill="#c0c0c0"/>
<rect x="532" y="628" width="1" height="6" fill="#c0c0c0"/>
<rect x="540" y="632" width="1" height="2" fill="#c0c0c0"/>
<rect x="548" y="632" width="1" height="2" fill="#c0c0c0"/>
<rect x="556" y="633" width="1" height="7" fill="#c0c0c0"/>
<rect x="564" y="633" width="1" height="5" fill="#c0c0c0"/>
<rect x="572" y="633" width="1" height="5" fill="#c0c0c0"/>
<rect x="580" y="633" width="1" height="10" fill="#c0c0c0"/>
<rect x="588" y="633" width="1" height="15" fill="#c0c0c0"/>
<rect x="596" y="633" width="1" height="19" fill="#c0c0c0"/>
<rect x="604" y="633" width="1" height="24" fill="#c0c0c0"/>
<rect x="612" y="633" width="1" height="25" fill="#c0c0c0"/>
<rect x="620" y="633" width="1" height="33" fill="#c0c0c0"/>
<rect x="628" y="633" width="1" height="35" fill="#c0c0c0"/>
<rect x="636" y="633" width="1" height="37" fill="#c0c0c0"/>
<rect x="644" y="633" width="1" height="40" fill="#c0c0c0"/>
<rect x="652" y="633" width="1" height="40" fill="#c0c0c0"/>
<rect x="660" y="633" width="1" height="42" fill="#c0c0c0"/>
<rect x="668" y="633" width="1" height="39" fill="#c0c0c0"/>
<rect x="676" y="633" width="1" height="35" fill="#c0c0c0"/>
<rect x="684" y="633" width="1" height="27" fill="#c0c0c0"/>
<rect x="692" y="633" width="1" height="22" fill="#c0c0c0"/>
<rect x="700" y="633" width="1" height="19" fill="#c0c0c0"/>
<rect x="708" y="633" width="1" height="13" fill="#c0c0c0"/>
<rect x="716" y="633" width="1" height="7" fill="#c0c0c0"/>
<rect x="724" y="633" width="1" height="5" fill="#c0c0c0"/>
<rect x="732" y="633" width="1" height="5" fill="#c0c0c0"/>
<rect x="740" y="633" width="1" height="5" fill="#c0c0c0"/>
<rect x="748" y="633" width="1" height="4" fill="#c0c0c0"/>
<rect x="756" y="633" width="1" height="4" fill="#c0c0c0"/>
<rect x="764" y="633" width="1" height="8" fill="#c0c0c0"/>
<rect x="772" y="633" width="1" height="7" fill="#c0c0c0"/>
<rect x="780" y="633" width="1" height="5" fill="#c0c0c0"/>
<rect x="788" y="633" width="1" height="3" fill="#c0c0c0"/>
<rect x="796" y="633" width="1" height="2" fill="#c0c0c0"/>
<rect x="804" y="633" width="1" height="2" fill="#c0c0c0"/>
<rect x="812" y="633" width="1" height="1" fill="#c0c0c0"/>
<rect x="820" y="633" width="1" height="1" fill="#c0c0c0"/>
<rect x="828" y="633" width="1" height="1" fill="#c0c0c0"/>
<rect x="836" y="633" width="1" height="1" fill="#c0c0c0"/>
<rect x="844" y="629" width="1" height="5" fill="#c0c0c0"/>
<rect x="852" y="630" width="1" height="4" fill="#c0c0c0"/>
<rect x="860" y="633" width="1" height="1" fill="#c0c0c0"/>
<rect x="868" y="633" width="1" height="10" fill="#c0c0c0"/>
<rect x="876" y="633" width="1" height="18" fill="#c0c0c0"/>
<rect x="884" y="633" width="1" height="24" fill="#c0c0c0"/>
<rect x="892" y="633" width="1" height="28" fill="#c0c0c0"/>
<rect x="900" y="633" width="1" height="31" fill="#c0c0c0"/>
<rect x="908" y="633" width="1" height="29" fill="#c0c0c0"/>
<rect x="916" y="633" width="1" height="32" fill="#c0c0c0"/>
<rect x="924" y="633" width="1" height="33" fill="#c0c0c0"/>
<rect x="932" y="633" width="1" height="34" fill="#c0c0c0"/>
<rect x="940" y="633" width="1" height="37" fill="#c0c0c0"/>
<rect x="948" y="633" width="1" height="51" fill="#c0c0c0"/>
<rect x="956" y="633" width="1" height="64" fill="#c0c0c0"/>
<rect x="964" y="633" width="1" height="72" fill="#c0c0c0"/>
<rect x="972" y="633" width="1" height="76" fill="#c0c0c0"/>
<rect x="980" y="633" width="1" height="77" fill="#c0c0c0"/>
<rect x="988" y="633" width="1" height="77" fill="#c0c0c0"/>
<rect x="996" y="633" width="1" height="74" fill="#c0c0c0"/>
<rect x="1004" y="633" width="1" height="67" fill="#c0c0c0"/>
<rect x="1012" y="633" width="1" height="54" fill="#c0c0c0"/>
<rect x="1020" y="633" width="1" height="39" fill="#c0c0c0"/>
<rect x="1028" y="633" width="1" height="24" fill="#c0c0c0"/>
<rect x="1036" y="633" width="1" height="15" fill="#c0c0c0"/>
<rect x="1044" y="633" width="1" height="10" fill="#c0c0c0"/>
<rect x="1052" y="633" width="1" height="8" fill="#c0c0c0"/>
<rect x="1060" y="633" width="1" height="1" fill="#c0c0c0"/>
<rect x="1068" y="626" width="1" height="8" fill="#c0c0c0"/>
<rect x="1076" y="621" width="1" height="13" fill="#c0c0c0"/>
<rect x="1084" y="615" width="1" height="19" fill="#c0c0c0"/>
<rect x="1092" y="615" width="1" height="19" fill="#c0c0c0"/>
<rect x="1100" y="619" width="1" height="15" fill="#c0c0c0"/>
<rect x="1108" y="620" width="1" height="14" fill="#c0c0c0"/>
<rect x="1116" y="622" width="1" height="12" fill="#c0c0c0"/>
<rect x="1124" y="624" width="1" height="10" fill="#c0c0c0"/>
<rect x="1132" y="626" width="1" height="8" fill="#c0c0c0"/>
<rect x="1140" y="624" width="1" height="10" fill="#c0c0c0"/>
<rect x="1148" y="623" width="1" height="11" fill="#c0c0c0"/>
<rect x="1156" y="628" width="1" height="6" fill="#c0c0c0"/>
<rect x="1164" y="632" width="1" height="2" fill="#c0c0c0"/>
<rect x="1172" y="633" width="1" height="1" fill="#c0c0c0"/>
<rect x="1180" y="633" width="1" height="10" fill="#c0c0c0"/>
<rect x="1188" y="633" width="1" height="19" fill="#c0c0c0"/>
<rect x="1196" y="633" width="1" height="16" fill="#c0c0c0"/>
<rect x="1204" y="633" width="1" height="15" fill="#c0c0c0"/>
<rect x="1212" y="633" width="1" height="21" fill="#c0c0c0"/>
<rect x="1220" y="633" width="1" height="26" fill="#c0c0c0"/>
<rect x="1228" y="633" width="1" height="25" fill="#c0c0c0"/>
<rect x="1236" y="633" width="1" height="24" fill="#c0c0c0"/>
<rect x="1244" y="633" width="1" height="23" fill="#c0c0c0"/>
<rect x="1252" y="633" width="1" height="26" fill="#c0c0c0"/>
<rect x="1260" y="633" width="1" height="31" fill="#c0c0c0"/>
<rect x="1268" y="633" width="1" height="37" fill="#c0c0c0"/>
<rect x="1276" y="633" width="1" height="42" fill="#c0c0c0"/>
<rect x="1284" y="633" width="1" height="51" fill="#c0c0c0"/>
<rect x="1292" y="633" width="1" height="61" fill="#c0c0c0"/>
<rect x="1300" y="633" width="1" height="74" fill="#c0c0c0"/>
<rect x="1308" y="633" width="1" height="85" fill="#c0c0c0"/>
<rect x="1316" y="633" width="1" height="92" fill="#c0c0c0"/>
<rect x="1324" y="633" width="1" height="99" fill="#c0c0c0"/>
<rect x="1332" y="633" width="1" height="103" fill="#c0c0c0"/>
<rect x="1340" y="633" width="1" height="108" fill="#c0c0c0"/>
<rect x="1348" y="633" width="1" height="107" fill="#c0c0c0"/>
<rect x="1356" y="633" width="1" height="104" fill="#c0c0c0"/>
<rect x="1364" y="633" width="1" height="99" fill="#c0c0c0"/>
<rect x="1372" y="633" width="1" height="95" fill="#c0c0c0"/>
<rect x="1380" y="633" width="1" height="90" fill="#c0c0c0"/>
<rect x="1388" y="633" width="1" height="84" fill="#c0c0c0"/>
<rect x="1396" y="633" width="1" height="67" fill="#c0c0c0"/>
<rect x="1404" y="633" width="1" height="49" fill="#c0c0c0"/>
<rect x="1412" y="633" width="1" height="25" fill="#c0c0c0"/>
</g>
<path d="M491 597h3v1h-3zM497 597h2v1h-2zM485 598h3v1h-3zM499 598h1v1h-1zM503 598h3v1h-3zM481 599h1v1h-1zM509 599h3v1h-3zM479 600h2v1h-2zM515 600h3v1h-3zM474 602h2v1h-2zM521 602h1v1h-1zM473 603h1v1h-1zM522 603h2v1h-2zM469 605h1v1h-1zM527 605h1v1h-1zM468 606h1v1h-1zM528 606h2v1h-2zM467 607h1v1h-1zM533 609h2v1h-2zM463 610h1v1h-1zM535 610h1v1h-1zM461 611h2v1h-2zM539 612h1v1h-1zM540 613h2v1h-2zM457 615h1v1h-1zM545 615h1v1h-1zM456 616h1v1h-1zM546 616h2v1h-2zM455 617h1v1h-1zM551 618h1v1h-1zM552 619h2v1h-2zM451 620h1v1h-1zM1142 620h3v1h-3zM1148 620h3v1h-3zM450 621h1v1h-1zM557 621h1v1h-1zM1125 621h2v1h-2zM1130 621h3v1h-3zM1136 621h3v1h-3zM1154 621h1v1h-1zM449 622h1v1h-1zM558 622h2v1h-2zM1119 622h2v1h-2zM1124 622h1v1h-1zM1155 622h2v1h-2zM1113 623h2v1h-2zM1118 623h1v1h-1zM1160 623h1v1h-1zM563 624h1v1h-1zM1112 624h1v1h-1zM1161 624h2v1h-2zM564 625h2v1h-2zM1107 625h2v1h-2zM1166 625h3v1h-3zM445 626h1v1h-1zM1106 626h1v1h-1zM1172 626h3v1h-3zM176 627h1v1h-1zM180 627h3v1h-3zM186 627h2v1h-2zM444 627h1v2h-1zM569 627h1v1h-1zM1178 627h1v1h-1zM168 628h3v1h-3zM174 628h2v1h-2zM188 628h1v1h-1zM192 628h3v1h-3zM570 628h2v1h-2zM1101 628h2v1h-2zM1179 628h2v1h-2zM156 629h3v1h-3zM162 629h3v1h-3zM198 629h3v1h-3zM1100 629h1v1h-1zM146 630h1v1h-1zM150 630h3v1h-3zM204 630h3v1h-3zM210 630h3v1h-3zM216 630h3v1h-3zM222 630h3v1h-3zM228 630h3v1h-3zM575 630h1v1h-1zM1184 630h1v1h-1zM138 631h3v1h-3zM144 631h2v1h-2zM234 631h2v1h-2zM576 631h2v1h-2zM1095 631h2v1h-2zM1185 631h2v1h-2zM133 632h2v1h-2zM236 632h1v1h-1zM440 632h1v1h-1zM857 632h3v1h-3zM863 632h1v1h-1zM1094 632h1v1h-1zM127 633h2v1h-2zM132 633h1v1h-1zM240 633h2v1h-2zM439 633h1v1h-1zM581 633h1v1h-1zM847 633h1v1h-1zM851 633h3v1h-3zM864 633h2v1h-2zM869 633h3v1h-3zM1190 633h3v1h-3zM121 634h2v1h-2zM126 634h1v1h-1zM242 634h1v1h-1zM438 634h1v1h-1zM582 634h2v1h-2zM839 634h3v1h-3zM845 634h2v1h-2zM875 634h2v1h-2zM1196 634h1v1h-1zM114 635h3v1h-3zM120 635h1v1h-1zM246 635h1v1h-1zM833 635h3v1h-3zM877 635h1v1h-1zM1089 635h2v1h-2zM1197 635h2v1h-2zM108 636h3v1h-3zM247 636h2v1h-2zM587 636h2v1h-2zM827 636h3v1h-3zM881 636h1v1h-1zM1088 636h1v1h-1zM1202 636h2v1h-2zM97 637h2v1h-2zM102 637h3v1h-3zM589 637h1v1h-1zM815 637h3v1h-3zM821 637h3v1h-3zM882 637h2v1h-2zM1204 637h1v1h-1zM84 638h3v1h-3zM90 638h3v1h-3zM96 638h1v1h-1zM435 638h1v1h-1zM593 638h3v1h-3zM798 638h2v1h-2zM803 638h3v1h-3zM809 638h3v1h-3zM1208 638h1v1h-1zM72 639h3v1h-3zM78 639h3v1h-3zM252 639h1v1h-1zM434 639h1v1h-1zM785 639h3v1h-3zM791 639h3v1h-3zM797 639h1v1h-1zM887 639h2v1h-2zM1084 639h1v1h-1zM1209 639h2v1h-2zM68 640h1v1h-1zM253 640h1v1h-1zM433 640h1v1h-1zM599 640h2v1h-2zM773 640h3v1h-3zM779 640h3v1h-3zM889 640h1v1h-1zM1083 640h1v1h-1zM66 641h2v1h-2zM254 641h1v1h-1zM601 641h1v1h-1zM767 641h3v1h-3zM893 641h1v1h-1zM1082 641h1v1h-1zM1214 641h2v1h-2zM61 642h2v1h-2zM761 642h3v1h-3zM894 642h2v1h-2zM1216 642h1v1h-1zM60 643h1v1h-1zM605 643h2v1h-2zM756 643h2v1h-2zM54 644h3v1h-3zM258 644h1v1h-1zM430 644h1v1h-1zM607 644h1v1h-1zM755 644h1v1h-1zM899 644h3v1h-3zM1220 644h2v1h-2zM49 645h2v1h-2zM259 645h1v1h-1zM429 645h1v1h-1zM611 645h1v1h-1zM749 645h3v1h-3zM1078 645h1v1h-1zM1222 645h1v1h-1zM42 646h3v1h-3zM48 646h1v1h-1zM260 646h1v1h-1zM428 646h1v1h-1zM612 646h2v1h-2zM905 646h1v1h-1zM1077 646h1v1h-1zM36 647h3v1h-3zM617 647h2v1h-2zM744 647h2v1h-2zM906 647h2v1h-2zM1076 647h1v1h-1zM1226 647h2v1h-2zM0 648h3v1h-3zM6 648h3v1h-3zM26 648h1v1h-1zM30 648h3v1h-3zM264 648h2v1h-2zM619 648h1v1h-1zM743 648h1v1h-1zM1228 648h1v1h-1zM12 649h3v1h-3zM18 649h3v1h-3zM24 649h2v1h-2zM266 649h1v1h-1zM623 649h1v1h-1zM911 649h1v1h-1zM424 650h1v1h-1zM624 650h2v1h-2zM738 650h2v1h-2zM912 650h2v1h-2zM1232 650h3v1h-3zM270 651h1v1h-1zM423 651h1v2h-1zM737 651h1v1h-1zM1072 651h1v1h-1zM1238 651h2v1h-2zM271 652h1v1h-1zM629 652h1v1h-1zM917 652h1v1h-1zM1071 652h1v1h-1zM1240 652h1v1h-1zM272 653h1v1h-1zM630 653h2v1h-2zM732 653h2v1h-2zM918 653h2v1h-2zM1070 653h1v1h-1zM1244 653h3v1h-3zM731 654h1v1h-1zM1250 654h3v1h-3zM635 655h1v1h-1zM923 655h1v1h-1zM1256 655h3v1h-3zM419 656h1v2h-1zM636 656h2v1h-2zM726 656h2v1h-2zM924 656h2v1h-2zM1262 656h2v1h-2zM276 657h1v1h-1zM725 657h1v1h-1zM1067 657h1v1h-1zM1264 657h1v1h-1zM277 658h1v1h-1zM418 658h1v1h-1zM641 658h1v1h-1zM929 658h1v1h-1zM1066 658h1v2h-1zM1268 658h3v1h-3zM278 659h1v1h-1zM642 659h2v1h-2zM720 659h2v1h-2zM930 659h2v1h-2zM719 660h1v1h-1zM1274 660h3v1h-3zM647 661h2v1h-2zM935 661h3v1h-3zM414 662h1v2h-1zM649 662h1v1h-1zM714 662h2v1h-2zM1280 662h1v1h-1zM282 663h1v1h-1zM653 663h1v1h-1zM713 663h1v1h-1zM941 663h3v1h-3zM1062 663h1v2h-1zM1281 663h2v1h-2zM283 664h1v1h-1zM413 664h1v1h-1zM654 664h2v1h-2zM708 664h2v1h-2zM284 665h1v1h-1zM703 665h1v1h-1zM707 665h1v1h-1zM947 665h1v1h-1zM1061 665h1v1h-1zM1286 665h1v1h-1zM659 666h3v1h-3zM701 666h2v1h-2zM948 666h2v1h-2zM1287 666h2v1h-2zM665 667h1v1h-1zM696 667h2v1h-2zM409 668h1v2h-1zM666 668h2v1h-2zM695 668h1v1h-1zM288 669h1v1h-1zM671 669h3v1h-3zM689 669h3v1h-3zM953 669h2v1h-2zM1057 669h1v1h-1zM1292 669h2v1h-2zM289 670h1v1h-1zM408 670h1v1h-1zM677 670h3v1h-3zM683 670h3v1h-3zM955 670h1v1h-1zM1056 670h1v1h-1zM1294 670h1v1h-1zM290 671h1v1h-1zM1055 671h1v1h-1zM959 672h1v1h-1zM960 673h1v1h-1zM1298 673h1v1h-1zM405 674h1v1h-1zM961 674h1v1h-1zM1051 674h1v1h-1zM1299 674h1v1h-1zM294 675h1v1h-1zM404 675h1v1h-1zM1050 675h1v1h-1zM1300 675h1v1h-1zM295 676h1v1h-1zM403 676h1v1h-1zM965 676h1v1h-1zM1049 676h1v1h-1zM296 677h1v1h-1zM966 677h1v1h-1zM967 678h1v1h-1zM1304 678h1v1h-1zM1305 679h1v1h-1zM400 680h1v1h-1zM971 680h1v1h-1zM1045 680h1v1h-1zM1306 680h1v1h-1zM299 681h1v1h-1zM399 681h1v2h-1zM972 681h1v1h-1zM1044 681h1v1h-1zM300 682h1v1h-1zM973 682h1v1h-1zM1043 682h1v1h-1zM301 683h1v1h-1zM1310 683h1v1h-1zM977 684h1v1h-1zM1311 684h1v1h-1zM978 685h1v1h-1zM1039 685h1v1h-1zM1312 685h1v1h-1zM396 686h1v1h-1zM979 686h1v1h-1zM1038 686h1v1h-1zM305 687h1v1h-1zM395 687h1v1h-1zM1037 687h1v1h-1zM306 688h1v2h-1zM394 688h1v1h-1zM983 688h1v1h-1zM984 689h2v1h-2zM1316 689h2v1h-2zM1033 690h1v1h-1zM1318 690h1v1h-1zM989 691h1v1h-1zM1032 691h1v1h-1zM391 692h1v2h-1zM990 692h2v1h-2zM1031 692h1v1h-1zM310 693h1v1h-1zM311 694h1v1h-1zM390 694h1v1h-1zM995 694h2v1h-2zM1322 694h1v1h-1zM312 695h1v1h-1zM997 695h1v1h-1zM1026 695h2v1h-2zM1323 695h1v1h-1zM1025 696h1v1h-1zM1324 696h1v1h-1zM1001 697h2v1h-2zM387 698h1v1h-1zM1003 698h1v1h-1zM1021 698h1v1h-1zM315 699h1v1h-1zM386 699h1v2h-1zM1019 699h2v1h-2zM316 700h1v1h-1zM1007 700h3v1h-3zM1014 700h2v1h-2zM1328 700h1v1h-1zM317 701h1v1h-1zM1013 701h1v1h-1zM1329 701h1v1h-1zM1330 702h1v1h-1zM382 703h1v1h-1zM381 704h1v1h-1zM320 705h1v1h-1zM380 705h1v1h-1zM321 706h1v1h-1zM1334 706h1v1h-1zM322 707h1v1h-1zM1335 707h1v1h-1zM376 708h1v1h-1zM1336 708h1v1h-1zM374 709h2v1h-2zM326 710h1v1h-1zM327 711h2v1h-2zM370 712h1v1h-1zM1340 712h1v1h-1zM369 713h1v1h-1zM1341 713h1v1h-1zM332 714h1v1h-1zM368 714h1v1h-1zM1342 714h1v1h-1zM333 715h2v1h-2zM1412 715h1v1h-1zM364 716h1v1h-1zM363 717h1v1h-1zM1346 717h1v1h-1zM338 718h2v1h-2zM362 718h1v1h-1zM1347 718h1v1h-1zM340 719h1v1h-1zM358 719h1v1h-1zM1348 719h1v1h-1zM1408 719h1v1h-1zM344 720h3v1h-3zM356 720h2v1h-2zM1406 720h2v1h-2zM350 721h3v1h-3zM1352 722h1v1h-1zM1353 723h1v1h-1zM1354 724h1v1h-1zM1402 724h1v1h-1zM1400 725h2v1h-2zM1358 727h1v1h-1zM1359 728h2v1h-2zM1396 728h1v1h-1zM1394 729h2v1h-2zM1364 730h3v1h-3zM1370 731h1v1h-1zM1388 731h3v1h-3zM1371 732h2v1h-2zM1376 732h3v1h-3zM1382 732h3v1h-3z" fill="#ff0000" shape-rendering="crispEdges"/>
<text transform="translate(0.6 592) scale(0.923 1)" font-size="10" fill="#000">MACD(12,26,9) -0.2692 -0.5982</text>
<text transform="translate(1657.8 590) scale(0.923 1)" font-size="10" fill="#000">0.3862</text>
<text transform="translate(1657.8 637) scale(0.923 1)" font-size="10" fill="#000">0.00</text>
<text transform="translate(1657.8 746) scale(0.923 1)" font-size="10" fill="#000">-0.8481</text>
<text transform="translate(1657.8 762) scale(0.923 1)" font-size="10" fill="#000">100</text>
<text transform="translate(1657.8 791) scale(0.923 1)" font-size="10" fill="#000">80</text>
<text transform="translate(1657.8 842) scale(0.923 1)" font-size="10" fill="#000">50</text>
<text transform="translate(1657.8 903) scale(0.923 1)" font-size="10" fill="#000">15</text>
<text transform="translate(1657.8 922) scale(0.923 1)" font-size="10" fill="#000">0</text>
<g shape-rendering="crispEdges">
<rect x="1655" y="581" width="2" height="1" fill="#000"/>
<rect x="1655" y="633" width="2" height="1" fill="#000"/>
<rect x="1655" y="748" width="2" height="1" fill="#000"/>
<rect x="1655" y="753" width="2" height="1" fill="#000"/>
<rect x="1655" y="787" width="2" height="1" fill="#000"/>
<rect x="1655" y="838" width="2" height="1" fill="#000"/>
<rect x="1655" y="899" width="2" height="1" fill="#000"/>
<rect x="1655" y="924" width="2" height="1" fill="#000"/>
</g>
<g shape-rendering="crispEdges">
<line x1="3" y1="787.5" x2="1654" y2="787.5" stroke="#c0c0c0" stroke-width="1" stroke-dasharray="3 3"/>
<line x1="3" y1="838.5" x2="1654" y2="838.5" stroke="#c0c0c0" stroke-width="1" stroke-dasharray="3 3"/>
<line x1="3" y1="899.5" x2="1654" y2="899.5" stroke="#c0c0c0" stroke-width="1" stroke-dasharray="3 3"/>
</g>
<path d="M420 814h3v1h-3zM451 814h3v1h-3zM419 815h1v2h-1zM423 815h4v1h-4zM433 815h6v1h-6zM449 815h2v1h-2zM454 815h2v1h-2zM427 816h6v1h-6zM439 816h4v1h-4zM446 816h3v1h-3zM456 816h2v1h-2zM418 817h1v1h-1zM443 817h3v1h-3zM458 817h2v1h-2zM417 818h1v1h-1zM460 818h1v1h-1zM416 819h1v2h-1zM461 819h2v1h-2zM1084 819h1v1h-1zM463 820h2v1h-2zM1027 820h2v1h-2zM1082 820h2v1h-2zM1085 820h1v2h-1zM124 821h9v1h-9zM415 821h1v1h-1zM465 821h1v1h-1zM1025 821h2v1h-2zM1029 821h2v1h-2zM1081 821h1v1h-1zM122 822h2v1h-2zM132 822h1v2h-1zM414 822h1v1h-1zM466 822h2v1h-2zM1022 822h3v1h-3zM1031 822h1v1h-1zM1060 822h3v1h-3zM1079 822h2v1h-2zM1086 822h1v1h-1zM120 823h2v1h-2zM401 823h6v1h-6zM413 823h1v2h-1zM468 823h1v2h-1zM1020 823h2v1h-2zM1032 823h1v1h-1zM1059 823h1v2h-1zM1063 823h4v1h-4zM1077 823h2v1h-2zM1087 823h1v2h-1zM105 824h8v1h-8zM118 824h2v1h-2zM133 824h1v4h-1zM395 824h6v1h-6zM407 824h4v1h-4zM1019 824h1v2h-1zM1033 824h2v1h-2zM1067 824h10v1h-10zM100 825h5v1h-5zM113 825h5v1h-5zM393 825h2v1h-2zM411 825h2v1h-2zM469 825h1v2h-1zM844 825h1v1h-1zM1035 825h1v1h-1zM1058 825h1v2h-1zM1088 825h1v1h-1zM100 826h1v1h-1zM390 826h3v1h-3zM843 826h1v1h-1zM845 826h1v1h-1zM1018 826h1v1h-1zM1036 826h1v1h-1zM1089 826h1v2h-1zM1404 826h5v1h-5zM99 827h1v2h-1zM388 827h2v1h-2zM470 827h1v2h-1zM716 827h1v1h-1zM842 827h1v2h-1zM846 827h1v2h-1zM1017 827h1v1h-1zM1037 827h1v1h-1zM1057 827h1v2h-1zM1403 827h1v1h-1zM1409 827h4v1h-4zM134 828h1v4h-1zM387 828h1v1h-1zM714 828h2v1h-2zM717 828h1v1h-1zM1016 828h1v2h-1zM1038 828h1v1h-1zM1090 828h1v1h-1zM1148 828h1v2h-1zM1402 828h1v1h-1zM98 829h1v2h-1zM386 829h1v2h-1zM471 829h1v2h-1zM713 829h1v1h-1zM718 829h1v1h-1zM841 829h1v1h-1zM847 829h1v1h-1zM1039 829h1v1h-1zM1056 829h1v2h-1zM1091 829h1v2h-1zM1146 829h2v1h-2zM1401 829h1v1h-1zM180 830h5v1h-5zM711 830h2v1h-2zM719 830h1v1h-1zM840 830h1v1h-1zM848 830h1v1h-1zM1015 830h1v1h-1zM1040 830h1v1h-1zM1145 830h1v1h-1zM1149 830h1v2h-1zM1400 830h1v1h-1zM4 831h1v3h-1zM27 831h3v1h-3zM97 831h1v3h-1zM179 831h1v1h-1zM185 831h4v1h-4zM385 831h1v1h-1zM472 831h1v2h-1zM709 831h2v1h-2zM720 831h1v1h-1zM839 831h1v1h-1zM849 831h1v1h-1zM1014 831h1v1h-1zM1041 831h1v1h-1zM1055 831h1v2h-1zM1092 831h1v1h-1zM1143 831h2v1h-2zM1399 831h1v1h-1zM5 832h1v1h-1zM25 832h2v1h-2zM30 832h3v1h-3zM135 832h1v4h-1zM177 832h2v1h-2zM189 832h1v1h-1zM384 832h1v1h-1zM492 832h2v1h-2zM708 832h1v1h-1zM721 832h1v1h-1zM838 832h1v2h-1zM850 832h1v2h-1zM1013 832h1v2h-1zM1042 832h1v1h-1zM1093 832h1v1h-1zM1141 832h2v1h-2zM1150 832h1v2h-1zM1398 832h1v1h-1zM6 833h1v1h-1zM22 833h3v1h-3zM33 833h2v1h-2zM41 833h4v1h-4zM176 833h1v1h-1zM190 833h1v1h-1zM383 833h1v1h-1zM473 833h1v2h-1zM491 833h1v1h-1zM494 833h3v1h-3zM707 833h1v1h-1zM722 833h1v1h-1zM785 833h4v1h-4zM1043 833h1v1h-1zM1054 833h1v2h-1zM1094 833h1v2h-1zM1140 833h1v1h-1zM1397 833h1v1h-1zM3 834h1v4h-1zM7 834h1v1h-1zM20 834h2v1h-2zM35 834h6v1h-6zM45 834h1v1h-1zM96 834h1v2h-1zM175 834h1v1h-1zM191 834h1v1h-1zM382 834h1v2h-1zM489 834h2v1h-2zM497 834h2v1h-2zM505 834h4v1h-4zM689 834h4v1h-4zM706 834h1v1h-1zM723 834h1v1h-1zM780 834h5v1h-5zM789 834h2v1h-2zM837 834h1v1h-1zM851 834h1v1h-1zM1012 834h1v1h-1zM1044 834h2v1h-2zM1139 834h1v1h-1zM1151 834h1v3h-1zM1396 834h1v2h-1zM8 835h1v2h-1zM19 835h1v1h-1zM46 835h1v1h-1zM173 835h2v1h-2zM192 835h1v1h-1zM474 835h1v2h-1zM488 835h1v1h-1zM499 835h6v1h-6zM509 835h1v1h-1zM684 835h5v1h-5zM693 835h2v1h-2zM705 835h1v1h-1zM724 835h1v1h-1zM778 835h2v1h-2zM791 835h2v1h-2zM825 835h12v1h-12zM852 835h1v1h-1zM1011 835h1v2h-1zM1046 835h3v1h-3zM1053 835h1v2h-1zM1095 835h1v1h-1zM1137 835h2v1h-2zM17 836h2v1h-2zM47 836h1v1h-1zM95 836h1v3h-1zM136 836h1v4h-1zM171 836h2v1h-2zM193 836h1v1h-1zM353 836h8v1h-8zM381 836h1v1h-1zM487 836h1v1h-1zM510 836h1v2h-1zM683 836h1v2h-1zM695 836h1v1h-1zM704 836h1v1h-1zM725 836h1v1h-1zM777 836h1v1h-1zM793 836h1v1h-1zM819 836h6v1h-6zM853 836h1v2h-1zM1049 836h2v1h-2zM1096 836h1v1h-1zM1136 836h1v1h-1zM1395 836h1v3h-1zM9 837h1v1h-1zM16 837h1v1h-1zM48 837h1v1h-1zM167 837h4v1h-4zM194 837h1v1h-1zM348 837h5v1h-5zM361 837h4v1h-4zM380 837h1v1h-1zM475 837h1v2h-1zM485 837h2v1h-2zM696 837h1v1h-1zM703 837h1v1h-1zM726 837h1v1h-1zM748 837h2v1h-2zM775 837h2v1h-2zM794 837h2v1h-2zM815 837h4v1h-4zM1010 837h1v2h-1zM1051 837h2v1h-2zM1097 837h1v1h-1zM1108 837h5v1h-5zM1135 837h1v1h-1zM1152 837h1v2h-1zM2 838h1v4h-1zM10 838h1v1h-1zM15 838h1v1h-1zM49 838h1v1h-1zM163 838h4v1h-4zM195 838h1v1h-1zM346 838h2v1h-2zM365 838h2v1h-2zM378 838h2v1h-2zM483 838h2v1h-2zM511 838h1v1h-1zM682 838h1v1h-1zM697 838h2v1h-2zM702 838h1v1h-1zM727 838h2v1h-2zM746 838h2v1h-2zM750 838h2v1h-2zM773 838h2v1h-2zM796 838h19v1h-19zM854 838h1v2h-1zM1098 838h1v2h-1zM1106 838h2v1h-2zM1113 838h6v1h-6zM1133 838h2v1h-2zM1196 838h2v1h-2zM11 839h1v1h-1zM13 839h2v1h-2zM50 839h1v1h-1zM94 839h1v2h-1zM148 839h5v1h-5zM159 839h4v1h-4zM196 839h1v1h-1zM345 839h1v1h-1zM367 839h2v1h-2zM377 839h1v1h-1zM476 839h1v2h-1zM479 839h4v1h-4zM512 839h1v1h-1zM564 839h9v1h-9zM681 839h1v2h-1zM699 839h1v1h-1zM701 839h1v1h-1zM729 839h1v1h-1zM744 839h2v1h-2zM752 839h2v1h-2zM772 839h1v1h-1zM1009 839h1v1h-1zM1104 839h2v1h-2zM1119 839h4v1h-4zM1129 839h4v1h-4zM1153 839h1v3h-1zM1196 839h1v1h-1zM1198 839h2v1h-2zM1394 839h1v3h-1zM12 840h1v1h-1zM51 840h1v1h-1zM68 840h9v1h-9zM137 840h1v4h-1zM147 840h1v2h-1zM153 840h6v1h-6zM197 840h2v1h-2zM343 840h2v1h-2zM369 840h1v1h-1zM375 840h2v1h-2zM477 840h2v1h-2zM513 840h1v1h-1zM563 840h1v2h-1zM573 840h1v2h-1zM700 840h1v1h-1zM730 840h1v1h-1zM742 840h2v1h-2zM754 840h2v1h-2zM771 840h1v2h-1zM855 840h1v1h-1zM1008 840h1v2h-1zM1099 840h1v1h-1zM1102 840h2v1h-2zM1123 840h6v1h-6zM1195 840h1v3h-1zM1200 840h2v1h-2zM52 841h1v1h-1zM67 841h1v1h-1zM77 841h1v1h-1zM93 841h1v2h-1zM199 841h1v1h-1zM212 841h5v1h-5zM341 841h2v1h-2zM370 841h2v1h-2zM373 841h2v1h-2zM514 841h1v2h-1zM680 841h1v1h-1zM731 841h1v1h-1zM737 841h5v1h-5zM756 841h1v1h-1zM856 841h1v2h-1zM1100 841h2v1h-2zM1202 841h2v1h-2zM1 842h1v4h-1zM53 842h2v1h-2zM65 842h2v1h-2zM78 842h1v1h-1zM146 842h1v2h-1zM200 842h1v1h-1zM210 842h2v1h-2zM217 842h4v1h-4zM340 842h1v1h-1zM372 842h1v1h-1zM562 842h1v2h-1zM574 842h1v1h-1zM679 842h1v2h-1zM732 842h5v1h-5zM757 842h1v2h-1zM770 842h1v2h-1zM1007 842h1v1h-1zM1154 842h1v2h-1zM1204 842h1v1h-1zM1393 842h1v3h-1zM55 843h2v1h-2zM64 843h1v1h-1zM79 843h1v1h-1zM92 843h1v2h-1zM201 843h2v1h-2zM208 843h2v1h-2zM221 843h1v2h-1zM339 843h1v2h-1zM515 843h1v1h-1zM575 843h1v2h-1zM857 843h1v1h-1zM1006 843h1v2h-1zM1194 843h1v4h-1zM1205 843h1v2h-1zM57 844h1v1h-1zM63 844h1v1h-1zM80 844h1v2h-1zM138 844h1v4h-1zM145 844h1v2h-1zM203 844h1v1h-1zM206 844h2v1h-2zM516 844h1v1h-1zM548 844h1v1h-1zM561 844h1v2h-1zM678 844h1v1h-1zM758 844h1v1h-1zM769 844h1v2h-1zM858 844h1v2h-1zM1155 844h1v2h-1zM1243 844h2v1h-2zM58 845h2v1h-2zM61 845h2v1h-2zM90 845h2v1h-2zM204 845h2v1h-2zM222 845h1v2h-1zM338 845h1v1h-1zM517 845h2v1h-2zM532 845h1v1h-1zM547 845h1v1h-1zM549 845h1v1h-1zM576 845h1v1h-1zM677 845h1v2h-1zM759 845h1v2h-1zM1005 845h1v2h-1zM1206 845h1v2h-1zM1228 845h5v1h-5zM1239 845h4v1h-4zM1245 845h1v1h-1zM1392 845h1v4h-1zM0 846h1v3h-1zM60 846h1v1h-1zM81 846h1v1h-1zM89 846h1v1h-1zM144 846h1v1h-1zM337 846h1v2h-1zM519 846h2v1h-2zM530 846h2v1h-2zM533 846h2v1h-2zM545 846h2v1h-2zM550 846h1v1h-1zM560 846h1v1h-1zM577 846h1v2h-1zM768 846h1v1h-1zM859 846h1v2h-1zM908 846h1v2h-1zM1156 846h1v2h-1zM1227 846h1v1h-1zM1233 846h6v1h-6zM1246 846h1v1h-1zM82 847h1v1h-1zM87 847h2v1h-2zM143 847h1v2h-1zM223 847h1v2h-1zM521 847h1v1h-1zM528 847h2v1h-2zM535 847h2v1h-2zM544 847h1v1h-1zM551 847h1v1h-1zM559 847h1v2h-1zM673 847h4v1h-4zM760 847h1v1h-1zM767 847h1v2h-1zM909 847h1v2h-1zM1004 847h1v2h-1zM1157 847h4v1h-4zM1169 847h4v1h-4zM1193 847h1v3h-1zM1207 847h1v1h-1zM1226 847h1v1h-1zM1247 847h1v1h-1zM83 848h1v1h-1zM85 848h2v1h-2zM139 848h1v4h-1zM336 848h1v1h-1zM522 848h2v1h-2zM526 848h2v1h-2zM537 848h1v1h-1zM543 848h1v1h-1zM552 848h1v2h-1zM578 848h1v1h-1zM668 848h5v1h-5zM761 848h1v2h-1zM860 848h1v2h-1zM907 848h1v2h-1zM1161 848h8v1h-8zM1173 848h1v2h-1zM1208 848h1v2h-1zM1225 848h1v1h-1zM1248 848h1v2h-1zM84 849h1v1h-1zM142 849h1v2h-1zM224 849h1v2h-1zM335 849h1v2h-1zM524 849h2v1h-2zM538 849h2v1h-2zM541 849h2v1h-2zM558 849h1v2h-1zM579 849h1v2h-1zM667 849h1v2h-1zM766 849h1v2h-1zM910 849h1v2h-1zM1003 849h1v2h-1zM1224 849h1v2h-1zM1391 849h1v3h-1zM540 850h1v1h-1zM553 850h1v1h-1zM762 850h1v1h-1zM861 850h1v2h-1zM906 850h1v2h-1zM1174 850h1v1h-1zM1192 850h1v3h-1zM1209 850h1v1h-1zM1249 850h1v1h-1zM141 851h1v2h-1zM225 851h1v2h-1zM334 851h1v1h-1zM554 851h1v1h-1zM557 851h1v2h-1zM580 851h2v1h-2zM666 851h1v2h-1zM763 851h1v2h-1zM765 851h1v2h-1zM911 851h1v2h-1zM1002 851h1v2h-1zM1175 851h1v1h-1zM1210 851h1v2h-1zM1223 851h1v1h-1zM1250 851h1v1h-1zM140 852h1v2h-1zM333 852h1v2h-1zM555 852h1v1h-1zM582 852h2v1h-2zM862 852h1v3h-1zM905 852h1v2h-1zM1176 852h1v2h-1zM1222 852h1v1h-1zM1251 852h1v1h-1zM1390 852h1v3h-1zM226 853h1v2h-1zM556 853h1v1h-1zM584 853h2v1h-2zM595 853h2v1h-2zM665 853h1v1h-1zM764 853h1v1h-1zM912 853h1v2h-1zM1001 853h1v2h-1zM1191 853h1v3h-1zM1211 853h1v2h-1zM1221 853h1v1h-1zM1252 853h2v1h-2zM332 854h1v1h-1zM586 854h2v1h-2zM591 854h4v1h-4zM597 854h2v1h-2zM612 854h1v1h-1zM664 854h1v2h-1zM904 854h1v3h-1zM1177 854h1v1h-1zM1217 854h4v1h-4zM1254 854h2v1h-2zM227 855h1v2h-1zM331 855h1v2h-1zM588 855h3v1h-3zM599 855h1v1h-1zM610 855h2v1h-2zM613 855h1v1h-1zM863 855h1v2h-1zM913 855h1v2h-1zM1000 855h1v2h-1zM1178 855h1v1h-1zM1212 855h5v1h-5zM1256 855h2v1h-2zM1389 855h1v3h-1zM600 856h1v1h-1zM609 856h1v1h-1zM614 856h1v1h-1zM663 856h1v1h-1zM1179 856h1v2h-1zM1190 856h1v4h-1zM1258 856h2v1h-2zM228 857h2v1h-2zM330 857h1v2h-1zM601 857h2v1h-2zM607 857h2v1h-2zM615 857h1v1h-1zM662 857h1v2h-1zM864 857h1v3h-1zM903 857h1v2h-1zM914 857h1v2h-1zM929 857h4v1h-4zM999 857h1v2h-1zM1260 857h1v1h-1zM230 858h2v1h-2zM603 858h1v1h-1zM605 858h2v1h-2zM616 858h1v2h-1zM633 858h6v1h-6zM651 858h3v1h-3zM923 858h6v1h-6zM933 858h1v1h-1zM1180 858h1v1h-1zM1261 858h2v1h-2zM1388 858h1v2h-1zM232 859h2v1h-2zM329 859h1v2h-1zM604 859h1v1h-1zM628 859h5v1h-5zM639 859h4v1h-4zM647 859h4v1h-4zM654 859h3v1h-3zM661 859h1v2h-1zM902 859h1v2h-1zM915 859h1v2h-1zM921 859h2v1h-2zM934 859h1v1h-1zM998 859h1v2h-1zM1181 859h2v1h-2zM1263 859h1v1h-1zM234 860h2v1h-2zM617 860h1v1h-1zM626 860h2v1h-2zM643 860h4v1h-4zM657 860h2v1h-2zM865 860h1v2h-1zM918 860h3v1h-3zM935 860h2v1h-2zM1183 860h1v1h-1zM1189 860h1v3h-1zM1264 860h1v1h-1zM1386 860h2v1h-2zM236 861h1v2h-1zM328 861h1v2h-1zM618 861h1v1h-1zM624 861h2v1h-2zM659 861h2v1h-2zM901 861h1v2h-1zM916 861h2v1h-2zM937 861h1v1h-1zM997 861h1v2h-1zM1184 861h1v1h-1zM1265 861h2v1h-2zM1384 861h2v1h-2zM619 862h1v1h-1zM622 862h2v1h-2zM866 862h1v3h-1zM938 862h1v1h-1zM1185 862h2v1h-2zM1267 862h1v1h-1zM1273 862h4v1h-4zM1382 862h2v1h-2zM237 863h1v2h-1zM327 863h1v2h-1zM620 863h2v1h-2zM900 863h1v2h-1zM939 863h1v1h-1zM996 863h1v2h-1zM1187 863h2v1h-2zM1268 863h5v1h-5zM1277 863h1v1h-1zM1380 863h2v1h-2zM899 864h1v1h-1zM940 864h1v2h-1zM1188 864h1v1h-1zM1278 864h1v1h-1zM1379 864h1v1h-1zM238 865h1v3h-1zM326 865h1v2h-1zM867 865h1v2h-1zM897 865h2v1h-2zM995 865h1v1h-1zM1279 865h1v1h-1zM1364 865h2v1h-2zM1377 865h2v1h-2zM881 866h8v1h-8zM894 866h3v1h-3zM941 866h1v2h-1zM994 866h1v1h-1zM1280 866h1v2h-1zM1363 866h1v1h-1zM1366 866h2v1h-2zM1376 866h1v1h-1zM260 867h1v1h-1zM325 867h1v2h-1zM868 867h1v2h-1zM873 867h8v1h-8zM889 867h5v1h-5zM993 867h1v1h-1zM1362 867h1v1h-1zM1368 867h2v1h-2zM1375 867h1v1h-1zM239 868h1v3h-1zM259 868h1v2h-1zM261 868h2v1h-2zM869 868h4v1h-4zM942 868h1v2h-1zM991 868h2v1h-2zM1281 868h1v1h-1zM1361 868h1v1h-1zM1370 868h2v1h-2zM1373 868h2v1h-2zM263 869h1v1h-1zM324 869h1v2h-1zM990 869h1v1h-1zM1282 869h1v1h-1zM1359 869h2v1h-2zM1372 869h1v1h-1zM258 870h1v2h-1zM264 870h1v1h-1zM943 870h1v3h-1zM989 870h1v1h-1zM1283 870h1v1h-1zM1358 870h1v1h-1zM240 871h1v2h-1zM265 871h2v1h-2zM323 871h1v3h-1zM980 871h9v1h-9zM1284 871h2v1h-2zM1357 871h1v1h-1zM257 872h1v1h-1zM267 872h1v1h-1zM978 872h2v1h-2zM1286 872h2v1h-2zM1355 872h2v1h-2zM241 873h1v3h-1zM256 873h1v2h-1zM268 873h1v1h-1zM944 873h1v2h-1zM976 873h2v1h-2zM1288 873h2v1h-2zM1351 873h4v1h-4zM269 874h1v1h-1zM322 874h1v2h-1zM974 874h2v1h-2zM1290 874h2v1h-2zM1348 874h3v1h-3zM255 875h1v1h-1zM270 875h1v2h-1zM945 875h1v3h-1zM972 875h2v1h-2zM1292 875h1v1h-1zM1347 875h1v2h-1zM242 876h1v3h-1zM254 876h1v2h-1zM284 876h1v1h-1zM321 876h1v3h-1zM970 876h2v1h-2zM1293 876h1v1h-1zM271 877h1v1h-1zM283 877h1v1h-1zM285 877h1v1h-1zM969 877h1v1h-1zM1294 877h1v1h-1zM1346 877h1v1h-1zM253 878h1v2h-1zM272 878h1v1h-1zM282 878h1v1h-1zM286 878h1v1h-1zM946 878h1v2h-1zM967 878h2v1h-2zM1295 878h2v1h-2zM1345 878h1v2h-1zM243 879h1v2h-1zM273 879h1v1h-1zM281 879h1v1h-1zM287 879h1v1h-1zM320 879h1v3h-1zM965 879h2v1h-2zM1297 879h1v1h-1zM251 880h2v1h-2zM274 880h1v2h-1zM279 880h2v1h-2zM288 880h1v2h-1zM947 880h1v2h-1zM964 880h1v1h-1zM1298 880h1v1h-1zM1344 880h1v1h-1zM244 881h1v2h-1zM247 881h4v1h-4zM278 881h1v1h-1zM963 881h1v1h-1zM1299 881h1v1h-1zM1343 881h1v2h-1zM245 882h2v1h-2zM275 882h1v1h-1zM277 882h1v1h-1zM289 882h1v1h-1zM319 882h1v3h-1zM948 882h1v2h-1zM961 882h2v1h-2zM1300 882h3v1h-3zM1315 882h6v1h-6zM276 883h1v1h-1zM290 883h1v1h-1zM307 883h2v1h-2zM949 883h1v1h-1zM960 883h1v1h-1zM1303 883h4v1h-4zM1311 883h4v1h-4zM1321 883h8v1h-8zM1342 883h1v1h-1zM291 884h1v1h-1zM303 884h4v1h-4zM309 884h1v1h-1zM950 884h3v1h-3zM959 884h1v1h-1zM1307 884h4v1h-4zM1329 884h6v1h-6zM1341 884h1v2h-1zM292 885h11v1h-11zM310 885h1v1h-1zM318 885h1v2h-1zM953 885h2v1h-2zM957 885h2v1h-2zM1335 885h4v1h-4zM311 886h1v1h-1zM955 886h2v1h-2zM1339 886h2v1h-2zM312 887h1v1h-1zM317 887h1v3h-1zM313 888h1v1h-1zM314 889h1v1h-1zM315 890h2v1h-2zM316 891h1v1h-1z" fill="#1e90ff" shape-rendering="crispEdges"/>
<text transform="translate(0.6 764) scale(0.923 1)" font-size="10" fill="#000">RSI(14) 56.4711</text>
<g shape-rendering="crispEdges">
<rect x="60" y="926" width="1" height="3" fill="#000"/>
<rect x="124" y="926" width="1" height="3" fill="#000"/>
<rect x="188" y="926" width="1" height="3" fill="#000"/>
<rect x="252" y="926" width="1" height="3" fill="#000"/>
<rect x="316" y="926" width="1" height="3" fill="#000"/>
<rect x="380" y="926" width="1" height="3" fill="#000"/>
<rect x="444" y="926" width="1" height="3" fill="#000"/>
<rect x="508" y="926" width="1" height="3" fill="#000"/>
<rect x="572" y="926" width="1" height="3" fill="#000"/>
<rect x="636" y="926" width="1" height="3" fill="#000"/>
<rect x="700" y="926" width="1" height="3" fill="#000"/>
<rect x="764" y="926" width="1" height="3" fill="#000"/>
<rect x="828" y="926" width="1" height="3" fill="#000"/>
<rect x="892" y="926" width="1" height="3" fill="#000"/>
<rect x="956" y="926" width="1" height="3" fill="#000"/>
<rect x="1020" y="926" width="1" height="3" fill="#000"/>
<rect x="1084" y="926" width="1" height="3" fill="#000"/>
<rect x="1148" y="926" width="1" height="3" fill="#000"/>
<rect x="1212" y="926" width="1" height="3" fill="#000"/>
<rect x="1276" y="926" width="1" height="3" fill="#000"/>
<rect x="1340" y="926" width="1" height="3" fill="#000"/>
<rect x="1404" y="926" width="1" height="3" fill="#000"/>
</g>
<g font-size="9" fill="#000">
<text transform="translate(-4.6 938) scale(0.923 1)" font-size="10" fill="#000">10 Jun 2021</text>
<text transform="translate(59.4 938) scale(0.923 1)" font-size="10" fill="#000">11 Jun 16:00</text>
<text transform="translate(123.4 938) scale(0.923 1)" font-size="10" fill="#000">15 Jun 00:00</text>
<text transform="translate(187.4 938) scale(0.923 1)" font-size="10" fill="#000">16 Jun 08:00</text>
<text transform="translate(251.4 938) scale(0.923 1)" font-size="10" fill="#000">17 Jun 16:00</text>
<text transform="translate(315.4 938) scale(0.923 1)" font-size="10" fill="#000">21 Jun 00:00</text>
<text transform="translate(379.4 938) scale(0.923 1)" font-size="10" fill="#000">22 Jun 08:00</text>
<text transform="translate(443.4 938) scale(0.923 1)" font-size="10" fill="#000">23 Jun 16:00</text>
<text transform="translate(507.4 938) scale(0.923 1)" font-size="10" fill="#000">25 Jun 00:00</text>
<text transform="translate(571.4 938) scale(0.923 1)" font-size="10" fill="#000">28 Jun 08:00</text>
<text transform="translate(635.4 938) scale(0.923 1)" font-size="10" fill="#000">29 Jun 16:00</text>
<text transform="translate(699.4 938) scale(0.923 1)" font-size="10" fill="#000">1 Jul 00:00</text>
<text transform="translate(763.4 938) scale(0.923 1)" font-size="10" fill="#000">2 Jul 08:00</text>
<text transform="translate(827.4 938) scale(0.923 1)" font-size="10" fill="#000">5 Jul 16:00</text>
<text transform="translate(891.4 938) scale(0.923 1)" font-size="10" fill="#000">7 Jul 00:00</text>
<text transform="translate(955.4 938) scale(0.923 1)" font-size="10" fill="#000">8 Jul 08:00</text>
<text transform="translate(1019.4 938) scale(0.923 1)" font-size="10" fill="#000">9 Jul 16:00</text>
<text transform="translate(1083.4 938) scale(0.923 1)" font-size="10" fill="#000">13 Jul 00:00</text>
<text transform="translate(1147.4 938) scale(0.923 1)" font-size="10" fill="#000">14 Jul 08:00</text>
<text transform="translate(1211.4 938) scale(0.923 1)" font-size="10" fill="#000">15 Jul 16:00</text>
<text transform="translate(1275.4 938) scale(0.923 1)" font-size="10" fill="#000">19 Jul 00:00</text>
<text transform="translate(1339.4 938) scale(0.923 1)" font-size="10" fill="#000">20 Jul 08:00</text>
<text transform="translate(1403.4 938) scale(0.923 1)" font-size="10" fill="#000">21 Jul 16:00</text>
</g>
<line x1="1349" y1="561" x2="1416.9" y2="354.5" stroke="#ff0000" stroke-width="3" shape-rendering="crispEdges"/>
<polygon points="1420,345 1421.2,358.0 1411.3,354.8" fill="#ff0000" shape-rendering="crispEdges"/>
<line x1="1360" y1="737" x2="1411.1" y2="667.1" stroke="#ff0000" stroke-width="3" shape-rendering="crispEdges"/>
<polygon points="1417,659 1414.2,671.8 1405.7,665.6" fill="#ff0000" shape-rendering="crispEdges"/>
<line x1="1336" y1="894" x2="1403.6" y2="823.7" stroke="#ff0000" stroke-width="3" shape-rendering="crispEdges"/>
<polygon points="1410.5,816.5 1406.0,828.8 1398.4,821.5" fill="#ff0000" shape-rendering="crispEdges"/>
</svg>
<div id="tb"></div>
<div class="ln" style="top:20px;background:#b2b2b2"></div>
<div class="ln" style="top:21px;background:#6a6a6a"></div>
<div class="ln" style="top:22px;background:#fbfbfb"></div>
<svg width="1701" height="20" viewBox="0 0 1701 20" style="position:absolute;left:0;top:0" font-family="Liberation Sans, sans-serif">
<defs>
<pattern id="hatch" width="2" height="2" patternUnits="userSpaceOnUse"><rect width="2" height="2" fill="#fff"/><rect width="1" height="1" fill="#ebebeb"/><rect x="1" y="1" width="1" height="1" fill="#ebebeb"/></pattern>
<linearGradient id="gplus" x1="0" y1="0" x2="0" y2="1"><stop offset="0" stop-color="#7dff7d"/><stop offset="0.5" stop-color="#22dd22"/><stop offset="1" stop-color="#0a9a0a"/></linearGradient>
<linearGradient id="ggold" x1="0" y1="0" x2="1" y2="1"><stop offset="0" stop-color="#ffec70"/><stop offset="0.45" stop-color="#f0c020"/><stop offset="1" stop-color="#b87c0c"/></linearGradient>
<radialGradient id="gglass" cx="0.4" cy="0.35" r="0.7"><stop offset="0" stop-color="#ffffff"/><stop offset="1" stop-color="#bfe0f7"/></radialGradient>
<linearGradient id="gblue" x1="0" y1="0" x2="0" y2="1"><stop offset="0" stop-color="#3c78e8"/><stop offset="1" stop-color="#1038c0"/></linearGradient>
<linearGradient id="ggreen" x1="0" y1="0" x2="0" y2="1"><stop offset="0" stop-color="#58b028"/><stop offset="1" stop-color="#2a8a0c"/></linearGradient>
<linearGradient id="gred" x1="0" y1="0" x2="0" y2="1"><stop offset="0" stop-color="#f05030"/><stop offset="1" stop-color="#c81808"/></linearGradient>
<linearGradient id="gclock" x1="0" y1="0" x2="0" y2="1"><stop offset="0" stop-color="#3c9cf8"/><stop offset="1" stop-color="#0838a8"/></linearGradient>
<linearGradient id="gsky" x1="0" y1="0" x2="1" y2="1"><stop offset="0" stop-color="#48b4ff"/><stop offset="1" stop-color="#1274e4"/></linearGradient><linearGradient id="gcloud" x1="0" y1="0" x2="0" y2="1"><stop offset="0" stop-color="#ffffff"/><stop offset="1" stop-color="#c4d0e6"/></linearGradient><linearGradient id="gyel" x1="0" y1="0" x2="1" y2="1"><stop offset="0" stop-color="#fff088"/><stop offset="0.6" stop-color="#f4cc30"/><stop offset="1" stop-color="#e09010"/></linearGradient></defs>
<circle cx="-2.5" cy="6.3" r="5.6" fill="url(#gglass)" stroke="#7aa0d0" stroke-width="1.4"/>
<line x1="2.5" y1="11" x2="7" y2="16.5" stroke="#c8a020" stroke-width="2.6" stroke-linecap="round"/>
<rect x="15" y="0" width="1" height="18" fill="#a0a0a0" shape-rendering="crispEdges"/>
<path d="M25.5 1.5q0-1 1-1h6l4 4v8q0 1-1 1h-9q-1 0-1-1z" fill="#fff" stroke="#767676" stroke-width="1"/>
<path d="M32.5 0.5v4h4" fill="#e8e8e8" stroke="#8a8a8a" stroke-width="0.8"/>
<path d="M27.5 4.5h4M27.5 6.5h6M27.5 8.5h3" stroke="#999" stroke-width="1"/>
<path d="M33 6.8h4v3.7h4v3.8h-4v3.7h-4v-3.7h-4v-3.8h4z" fill="url(#gplus)" stroke="#0a8a0a" stroke-width="0.6"/>
<text x="44" y="11.3" font-size="12" fill="#000" stroke="#000" stroke-width="0.2" style="font-family:'Liberation Sans','Noto Sans CJK SC',sans-serif">新订单</text>
<text x="196.3" y="11.3" font-size="12" fill="#000" stroke="#000" stroke-width="0.2" style="font-family:'Liberation Sans','Noto Sans CJK SC',sans-serif">自动交易</text>
<path d="M92.6 11.6L100.6 16.2L108 10.2L107 8.8L100.4 14.2L93.2 10.4Z" fill="#9a6410"/>
<path d="M97.6 1.2L107.6 9.2L100.2 15L92.2 10.6Q95.6 6.4 97.6 1.2Z" fill="url(#ggold)" stroke="#b07a10" stroke-width="0.7" stroke-linejoin="round"/>
<path d="M98 2.6Q96.4 7 93.6 10.4" stroke="#fff4b0" stroke-width="1.1" fill="none" opacity="0.85"/>
<path d="M122.3 0.8L124.6 0H133V8.6H124.6L122.3 9.6Z" fill="#1462d2"/>
<rect x="124.6" y="0" width="8.6" height="8.6" fill="url(#gsky)"/>
<path d="M126.6 2.2h5.6M127.6 5.5h4.6" stroke="#e8f4ff" stroke-width="1.1"/>
<path d="M126 1.4v6.6" stroke="#bfe0ff" stroke-width="0.9"/>
<path d="M122.6 15.6q-2.6 0-2.6-2.3q0-2.1 2.7-2.3q0.5-2.6 3.4-2.6q2.2 0 3 1.6q0.8-0.8 2.1-0.8q2.5 0 2.7 2.3q2.3 0.3 2.3 2.1q0 2-2.6 2z" fill="url(#gcloud)" stroke="#4a6cb4" stroke-width="0.9"/>
<path d="M156 7.8L163.6 10.4A8 8 0 0 1 156.4 15.8Z" fill="#8cc88c" opacity="0.75"/>
<path d="M156 7.8L161 9.6A5.4 5.4 0 0 1 156.3 13.2Z" fill="#5cb05c" opacity="0.6"/>
<g fill="none" stroke-linecap="round"><path d="M151 14A8 8 0 1 1 163.9 8.8" stroke="#8ca8e0" stroke-width="1.1"/><path d="M152.6 11.4A5.2 5.2 0 1 1 161.2 7.6" stroke="#5078d4" stroke-width="1.2"/><path d="M154 9.4A2.8 2.8 0 1 1 158.8 7.6" stroke="#3c64cc" stroke-width="1.1"/></g>
<circle cx="155.9" cy="7.7" r="1.5" fill="#2448c4"/>
<path d="M156.4 8.4V15.6" stroke="#18a028" stroke-width="1.4"/>
<path d="M176 6.6L182.4 15.6L186 15.2L190.4 7.2Z" fill="url(#gyel)" stroke="#d09c10" stroke-width="0.6"/>
<ellipse cx="183" cy="5.2" rx="7.8" ry="2.5" fill="#58a0dc" stroke="#2c70b8" stroke-width="0.6"/>
<path d="M180.4 4.8q0.2-4.2 2.8-4.8q2.6 0.6 2.8 4.8q-2.8 1-5.6 0z" fill="#6cb4e8" stroke="#2c70b8" stroke-width="0.5"/>
<ellipse cx="182.4" cy="2.6" rx="1.2" ry="1.6" fill="#b8dcf8" opacity="0.8"/>
<circle cx="187.6" cy="11.6" r="3.9" fill="#e01c10" stroke="#a81008" stroke-width="0.6"/>
<rect x="186.3" y="10.3" width="2.7" height="2.7" fill="#fff"/>
<rect x="251" y="0" width="1" height="20" fill="#a0a0a0" shape-rendering="crispEdges"/>
<rect x="252" y="0" width="1" height="20" fill="#fff" shape-rendering="crispEdges"/>
<rect x="255" y="1" width="3" height="1" fill="#a6a6a6" shape-rendering="crispEdges"/>
<rect x="255" y="3" width="3" height="1" fill="#a6a6a6" shape-rendering="crispEdges"/>
<rect x="255" y="5" width="3" height="1" fill="#a6a6a6" shape-rendering="crispEdges"/>
<rect x="255" y="7" width="3" height="1" fill="#a6a6a6" shape-rendering="crispEdges"/>
<rect x="255" y="9" width="3" height="1" fill="#a6a6a6" shape-rendering="crispEdges"/>
<rect x="255" y="11" width="3" height="1" fill="#a6a6a6" shape-rendering="crispEdges"/>
<rect x="255" y="13" width="3" height="1" fill="#a6a6a6" shape-rendering="crispEdges"/>
<rect x="255" y="15" width="3" height="1" fill="#a6a6a6" shape-rendering="crispEdges"/>
<rect x="255" y="17" width="3" height="1" fill="#a6a6a6" shape-rendering="crispEdges"/>
<g stroke="#555" stroke-width="1.2" fill="none"><path d="M269.5 3V16M267.0 13.5H280.5"/></g>
<path d="M267.7 4.5L269.5 2L271.3 4.5ZM279.0 11.7L281.5 13.5L279.0 15.3Z" fill="#555"/>
<path d="M276 3.5V11M276 4h2.4M273.6 10.4H276" stroke="#1a9a1a" stroke-width="1.3" fill="none"/>
<rect x="289" y="0" width="26" height="19" fill="#fff" shape-rendering="crispEdges"/>
<rect x="290" y="0" width="24" height="18" fill="url(#hatch)" shape-rendering="crispEdges"/>
<rect x="289" y="0" width="1" height="18" fill="#9c9c9c" shape-rendering="crispEdges"/>
<g stroke="#555" stroke-width="1.2" fill="none"><path d="M297.5 3V16M295.0 13.5H308.5"/></g>
<path d="M295.7 4.5L297.5 2L299.3 4.5ZM307.0 11.7L309.5 13.5L307.0 15.3Z" fill="#555"/>
<path d="M303.5 0V12" stroke="#1a9a1a" stroke-width="1.2"/>
<rect x="301.4" y="2.7" width="4.2" height="6.8" fill="url(#gplus)" stroke="#0a8a0a" stroke-width="0.8"/>
<g stroke="#555" stroke-width="1.2" fill="none"><path d="M325.5 3V16M323.0 13.5H336.5"/></g>
<path d="M323.7 4.5L325.5 2L327.3 4.5ZM335.0 11.7L337.5 13.5L335.0 15.3Z" fill="#555"/>
<path d="M324 10.8Q327.5 8.5 329.5 5.6Q331 4.6 332.5 6Q334.5 8 336 8.8" stroke="#2a9a2a" stroke-width="1.2" fill="none"/>
<rect x="346" y="0" width="1" height="18" fill="#a0a0a0" shape-rendering="crispEdges"/>
<line x1="365.2" y1="10.2" x2="369.6" y2="14.4" stroke="#a87c10" stroke-width="3.4" stroke-linecap="butt"/>
<line x1="365.2" y1="10.2" x2="369.4" y2="14.2" stroke="#e4c030" stroke-width="2.2" stroke-linecap="butt"/>
<line x1="365.8" y1="9.8" x2="370" y2="13.8" stroke="#fff48c" stroke-width="0.8"/>
<circle cx="361" cy="5.8" r="5.5" fill="#d4eefc" stroke="#3a7cd4" stroke-width="1.2"/>
<circle cx="361" cy="5.2" r="3.6" fill="#eaf8ff" opacity="0.7"/>
<path d="M357.8 6h6.4" stroke="#4a8cb8" stroke-width="1.7"/>
<path d="M361 2.8v6.4" stroke="#4a8cb8" stroke-width="1.7"/>
<line x1="393.5" y1="10.2" x2="397.90000000000003" y2="14.4" stroke="#a87c10" stroke-width="3.4" stroke-linecap="butt"/>
<line x1="393.5" y1="10.2" x2="397.7" y2="14.2" stroke="#e4c030" stroke-width="2.2" stroke-linecap="butt"/>
<line x1="394.1" y1="9.8" x2="398.3" y2="13.8" stroke="#fff48c" stroke-width="0.8"/>
<circle cx="389.3" cy="5.8" r="5.5" fill="#d4eefc" stroke="#3a7cd4" stroke-width="1.2"/>
<circle cx="389.3" cy="5.2" r="3.6" fill="#eaf8ff" opacity="0.7"/>
<path d="M386.1 6h6.4" stroke="#4a8cb8" stroke-width="1.7"/>
<rect x="411.2" y="-0.4" width="7.7" height="7.9" rx="0.8" fill="url(#ggreen)"/>
<path d="M412.3 2.8000000000000003h5.6v4h-1.2v-1.2h-3.2v1.2h-1.2z" fill="#fff"/>
<rect x="413.2" y="3.8000000000000003" width="3.8" height="0.9" fill="#8cd060"/>
<rect x="412.2" y="0.7000000000000001" width="0.9" height="0.9" fill="#fff" opacity="0.9"/>
<rect x="419.3" y="-0.4" width="7.7" height="7.9" rx="0.8" fill="url(#gblue)"/>
<path d="M420.40000000000003 2.8000000000000003h5.6v4h-1.2v-1.2h-3.2v1.2h-1.2z" fill="#fff"/>
<rect x="421.3" y="3.8000000000000003" width="3.8" height="0.9" fill="#7c9cf0"/>
<rect x="420.3" y="0.7000000000000001" width="0.9" height="0.9" fill="#fff" opacity="0.9"/>
<rect x="411.2" y="8" width="7.7" height="7.9" rx="0.8" fill="url(#gblue)"/>
<path d="M412.3 11.2h5.6v4h-1.2v-1.2h-3.2v1.2h-1.2z" fill="#fff"/>
<rect x="413.2" y="12.2" width="3.8" height="0.9" fill="#7c9cf0"/>
<rect x="412.2" y="9.1" width="0.9" height="0.9" fill="#fff" opacity="0.9"/>
<rect x="419.3" y="8" width="7.7" height="7.9" rx="0.8" fill="url(#ggreen)"/>
<path d="M420.40000000000003 11.2h5.6v4h-1.2v-1.2h-3.2v1.2h-1.2z" fill="#fff"/>
<rect x="421.3" y="12.2" width="3.8" height="0.9" fill="#8cd060"/>
<rect x="420.3" y="9.1" width="0.9" height="0.9" fill="#fff" opacity="0.9"/>
<rect x="436" y="0" width="1" height="18" fill="#a0a0a0" shape-rendering="crispEdges"/>
<rect x="441" y="0" width="26" height="19" fill="#fff" shape-rendering="crispEdges"/>
<rect x="442" y="0" width="24" height="18" fill="url(#hatch)" shape-rendering="crispEdges"/>
<rect x="441" y="0" width="1" height="18" fill="#9c9c9c" shape-rendering="crispEdges"/>
<g stroke="#555" stroke-width="1.2" fill="none"><path d="M449.5 3V16M447.0 13.5H460.5"/></g>
<path d="M447.7 4.5L449.5 2L451.3 4.5ZM459.0 11.7L461.5 13.5L459.0 15.3Z" fill="#555"/>
<path d="M454.3 4.6L457.6 7.6L454.3 10.6Z" fill="#7ce07c" stroke="#1a9a1a" stroke-width="1"/>
<rect x="469" y="0" width="27" height="19" fill="#fff" shape-rendering="crispEdges"/>
<rect x="470" y="0" width="25" height="18" fill="url(#hatch)" shape-rendering="crispEdges"/>
<rect x="469" y="0" width="1" height="18" fill="#9c9c9c" shape-rendering="crispEdges"/>
<g stroke="#555" stroke-width="1.2" fill="none"><path d="M477.5 3V16M475.0 13.5H488.5"/></g>
<path d="M475.7 4.5L477.5 2L479.3 4.5ZM487.0 11.7L489.5 13.5L487.0 15.3Z" fill="#555"/>
<path d="M483.6 2V11.5" stroke="#1a6aa0" stroke-width="1.3"/>
<path d="M484.6 7.6L487.4 5.6V7h2.2v1.2h-2.2v1.4Z" fill="#e85808" stroke="#e85808" stroke-width="0.5"/>
<rect x="498" y="0" width="1" height="18" fill="#a0a0a0" shape-rendering="crispEdges"/>
<path d="M508.5 1.5q0-1 1-1h6l4 4v8q0 1-1 1h-9q-1 0-1-1z" fill="#fff" stroke="#767676" stroke-width="1"/>
<path d="M515.5 0.5v4h4" fill="#e8e8e8" stroke="#8a8a8a" stroke-width="0.8"/>
<path d="M513 3.2q-1.6 0-1.6 1.6v4.4q0 1.6-1 1.6" stroke="#777" stroke-width="0.9" fill="none"/><path d="M510.6 6.5h3" stroke="#777" stroke-width="0.9"/>
<path d="M516 6.8h4v3.7h4v3.8h-4v3.7h-4v-3.7h-4v-3.8h4z" fill="url(#gplus)" stroke="#0a8a0a" stroke-width="0.6"/>
<polygon points="530,7 535.6,7 532.8,10" fill="#000"/>
<circle cx="554" cy="8" r="6.5" fill="#f8fbff" stroke="url(#gclock)" stroke-width="3"/>
<rect x="552.5" y="0" width="2.6" height="1.6" fill="#1c58c8"/>
<path d="M554 4.6V8.4H556.6" stroke="#222" stroke-width="1.2" fill="none"/>
<g fill="#8a8a8a"><circle cx="554" cy="3.8" r="0.45"/><circle cx="554" cy="12.2" r="0.45"/><circle cx="549.8" cy="8" r="0.45"/><circle cx="558.2" cy="8" r="0.45"/><circle cx="551" cy="5" r="0.4"/><circle cx="557" cy="5" r="0.4"/><circle cx="551" cy="11" r="0.4"/><circle cx="557" cy="11" r="0.4"/></g>
<polygon points="569,7 574.6,7 571.8,10" fill="#000"/>
<rect x="585.5" y="1.2" width="15" height="13.5" fill="#fff" stroke="#3a70c8" stroke-width="1.3"/>
<rect x="585.5" y="1.2" width="15" height="2.2" fill="#7cb4f0"/>
<path d="M586 8.6h14" stroke="#3a70c8" stroke-width="1"/>
<path d="M587.5 7l2-0.2l1.8-1.2l2.2 0.6l1.8-0.8l1.6 0.6l2-0.9" stroke="#a01c08" stroke-width="1.4" fill="none"/>
<path d="M588 12.6l2.3-0.4l1.6-0.8l1.8 0.8l2.4-2l2.6 2.4" stroke="#14901c" stroke-width="1.3" fill="none"/>
<polygon points="608,7 613.6,7 610.8,10" fill="#000"/>
<rect x="619" y="0" width="1" height="20" fill="#a0a0a0" shape-rendering="crispEdges"/>
<rect x="620" y="0" width="1" height="20" fill="#fff" shape-rendering="crispEdges"/>
<rect x="623" y="1" width="3" height="1" fill="#a6a6a6" shape-rendering="crispEdges"/>
<rect x="623" y="3" width="3" height="1" fill="#a6a6a6" shape-rendering="crispEdges"/>
<rect x="623" y="5" width="3" height="1" fill="#a6a6a6" shape-rendering="crispEdges"/>
<rect x="623" y="7" width="3" height="1" fill="#a6a6a6" shape-rendering="crispEdges"/>
<rect x="623" y="9" width="3" height="1" fill="#a6a6a6" shape-rendering="crispEdges"/>
<rect x="623" y="11" width="3" height="1" fill="#a6a6a6" shape-rendering="crispEdges"/>
<rect x="623" y="13" width="3" height="1" fill="#a6a6a6" shape-rendering="crispEdges"/>
<rect x="623" y="15" width="3" height="1" fill="#a6a6a6" shape-rendering="crispEdges"/>
<rect x="623" y="17" width="3" height="1" fill="#a6a6a6" shape-rendering="crispEdges"/>
<rect x="629" y="0" width="26" height="19" fill="#fff" shape-rendering="crispEdges"/>
<rect x="630" y="0" width="24" height="18" fill="url(#hatch)" shape-rendering="crispEdges"/>
<rect x="629" y="0" width="1" height="18" fill="#9c9c9c" shape-rendering="crispEdges"/>
<path d="M637 0.8V13.2L639.8 10.6L642.2 15.4L644 14.5L641.7 9.8L645.3 9.5Z" fill="#404040"/>
<path d="M669.4 1.3V6.5M669.4 10V15.5M662 8.3H667.8M671 8.3H677" stroke="#444" stroke-width="1.3"/>
<rect x="686" y="0" width="1" height="18" fill="#a0a0a0" shape-rendering="crispEdges"/>
<path d="M703.5 2V15" stroke="#444" stroke-width="1.3"/>
<path d="M726 8.3H738" stroke="#444" stroke-width="1.3"/>
<path d="M753.8 15L765.9 2.9" stroke="#444" stroke-width="1.2"/>
<path d="M780 9.5L789.5 1.5M782 14L794 4M784.5 15L793.5 7.5" stroke="#444" stroke-width="1" fill="none"/>
<path d="M782.5 8.5V14M785.5 6V12.5M788.5 4V10M791.5 0V7.5" stroke="#444" stroke-width="0.9"/>
<text x="790.8" y="16.6" font-size="6.5" font-weight="bold" fill="#333">E</text>
<path d="M809 1.5H822" stroke="#444" stroke-width="1" stroke-dasharray="1 1"/>
<path d="M809 3.8H822" stroke="#444" stroke-width="1" stroke-dasharray="1 1"/>
<path d="M809 8.3H822" stroke="#444" stroke-width="1" stroke-dasharray="1 1"/>
<path d="M809 12.5H818" stroke="#444" stroke-width="1" stroke-dasharray="1 1"/>
<text x="818.6" y="16.6" font-size="6.5" font-weight="bold" fill="#333">F</text>
<text x="839.4" y="13" font-size="13" fill="#4a4a4a" stroke="#4a4a4a" stroke-width="0.3">A</text>
<rect x="866.5" y="1.5" width="11.5" height="13.5" fill="none" stroke="#444" stroke-width="1" stroke-dasharray="1 1"/>
<text x="868" y="13" font-size="12" fill="#4a4a4a" stroke="#4a4a4a" stroke-width="0.3">T</text>
<path d="M896.5 2.2L899.6 4.8L896.5 7.2L893.4 4.8ZM903.7 10L906.8 12.6L903.7 15L900.6 12.6Z" fill="#444"/>
<path d="M895 8.8L897.3 11.3L902.3 5.3" stroke="#444" stroke-width="1.3" fill="none"/>
<polygon points="913.8,7 919.4,7 916.5999999999999,10" fill="#000"/>
<rect x="925" y="0" width="1" height="20" fill="#a0a0a0" shape-rendering="crispEdges"/>
<rect x="926" y="0" width="1" height="20" fill="#fff" shape-rendering="crispEdges"/>
<rect x="929" y="1" width="3" height="1" fill="#a6a6a6" shape-rendering="crispEdges"/>
<rect x="929" y="3" width="3" height="1" fill="#a6a6a6" shape-rendering="crispEdges"/>
<rect x="929" y="5" width="3" height="1" fill="#a6a6a6" shape-rendering="crispEdges"/>
<rect x="929" y="7" width="3" height="1" fill="#a6a6a6" shape-rendering="crispEdges"/>
<rect x="929" y="9" width="3" height="1" fill="#a6a6a6" shape-rendering="crispEdges"/>
<rect x="929" y="11" width="3" height="1" fill="#a6a6a6" shape-rendering="crispEdges"/>
<rect x="929" y="13" width="3" height="1" fill="#a6a6a6" shape-rendering="crispEdges"/>
<rect x="929" y="15" width="3" height="1" fill="#a6a6a6" shape-rendering="crispEdges"/>
<rect x="929" y="17" width="3" height="1" fill="#a6a6a6" shape-rendering="crispEdges"/>
<rect x="1075" y="0" width="27" height="19" fill="#fff" shape-rendering="crispEdges"/>
<rect x="1076" y="0" width="25" height="18" fill="url(#hatch)" shape-rendering="crispEdges"/>
<rect x="1075" y="0" width="1" height="18" fill="#9c9c9c" shape-rendering="crispEdges"/>
<text transform="translate(940.2 11.6) scale(0.95 1)" font-size="10" fill="#3c3c3c">M1</text>
<text transform="translate(968.3 11.6) scale(0.95 1)" font-size="10" fill="#3c3c3c">M5</text>
<text transform="translate(994.2 11.6) scale(0.95 1)" font-size="10" fill="#3c3c3c">M15</text>
<text transform="translate(1022.2 11.6) scale(0.95 1)" font-size="10" fill="#3c3c3c">M30</text>
<text transform="translate(1053 11.6) scale(0.95 1)" font-size="10" fill="#3c3c3c">H1</text>
<text transform="translate(1080 11.6) scale(0.95 1)" font-size="10" fill="#3c3c3c">H4</text>
<text transform="translate(1109.2 11.6) scale(0.95 1)" font-size="10" fill="#3c3c3c">D1</text>
<text transform="translate(1137 11.6) scale(0.95 1)" font-size="10" fill="#3c3c3c">W1</text>
<text transform="translate(1163.3 11.6) scale(0.95 1)" font-size="10" fill="#3c3c3c">MN</text>
<rect x="1186" y="0" width="1" height="20" fill="#a0a0a0" shape-rendering="crispEdges"/>
<rect x="1187" y="0" width="1" height="20" fill="#fff" shape-rendering="crispEdges"/>
<circle cx="1656.6" cy="5.4" r="3.9" fill="#f4f8ff" stroke="#2858c8" stroke-width="1.5"/>
<path d="M1653.8 8.3L1649 12.9" stroke="#2858c8" stroke-width="2.2" stroke-linecap="round"/>
<path d="M1674 10q0-5 6-5q6 0 6 5q0 4.2-6 4.2q-1 0-1.8-0.2l-2.8 2.2l0.6-3q-2-1.2-2-3.2z" fill="#e4e4e4" stroke="#b8b8b8" stroke-width="0.8"/>
<circle cx="1687.4" cy="5.6" r="8.3" fill="url(#gred)"/>
<text x="1687.2" y="10" font-size="12" fill="#fff" stroke="#fff" stroke-width="0.4" text-anchor="middle">1</text>
</svg>

<div id="hdr" style="position:absolute;left:11.2px;top:26.5px;font-size:10px;line-height:12px;color:#000;white-space:pre;transform-origin:0 0;transform:scaleX(0.923)">GBPJPY-,H4  151.248 151.297 151.124 151.151</div>
<svg width="8" height="6" style="position:absolute;left:0;top:30px"><polygon points="0,4.6 3.2,1.2 6.4,4.6" fill="#000"/></svg>
<div id="panel" style="position:absolute;left:0;top:43px;width:220px;height:60px;background:#fff;">
 <div style="position:absolute;left:0;top:1px;width:51px;height:25px;background:linear-gradient(#5454f8,#3a3adc);box-shadow:inset 0 1px #2a2ac8, inset -1px 0 #2222b8"></div>
 <div style="position:absolute;left:166px;top:1px;width:52px;height:25px;background:linear-gradient(#5454f8,#3a3adc);box-shadow:inset 0 1px #2a2ac8, inset 1px 0 #2222b8, inset -1px 0 #2222b8"></div>
 <div style="position:absolute;left:0;top:25px;width:108px;height:33px;background:linear-gradient(#3636d8,#2a2acc 40%,#0606b0);box-shadow:inset -1px 0 #1010a8"></div>
 <div style="position:absolute;left:110px;top:25px;width:108px;height:33px;background:linear-gradient(#3636d8,#2a2acc 40%,#0606b0);box-shadow:inset 1px 0 #1010a8, inset -1px 0 #1010a8"></div>
 <div style="position:absolute;left:0;top:1px;width:50px;height:25px;background:linear-gradient(#5454f8,#3a3adc);clip-path:inset(1px 0 0 0)"></div>
 <div style="position:absolute;left:167px;top:1px;width:50px;height:25px;background:linear-gradient(#5454f8,#3a3adc);clip-path:inset(1px 0 0 0)"></div>
 <div style="position:absolute;left:3px;top:24px;width:44px;height:1px;background:#2424b4"></div>
 <div style="position:absolute;left:3px;top:25px;width:44px;height:1px;background:#8080f4"></div>
 <div style="position:absolute;left:170px;top:24px;width:44px;height:1px;background:#2424b4"></div>
 <div style="position:absolute;left:170px;top:25px;width:44px;height:1px;background:#8080f4"></div>
 <div style="position:absolute;left:-1px;top:6px;width:50px;text-align:center;color:#fff;font-size:12.3px;line-height:14px;"><span style="display:inline-block;transform:scaleX(0.87)">SELL</span></div>
 <div style="position:absolute;left:166px;top:6px;width:50px;text-align:center;color:#fff;font-size:12.3px;line-height:14px;"><span style="display:inline-block;transform:scaleX(0.93)">BUY</span></div>
 <div style="position:absolute;left:53px;top:1px;width:109px;height:20px;border:1px solid #b4b4b4;background:#fff"></div>
 <div style="position:absolute;left:54px;top:2px;width:20px;height:20px;background:linear-gradient(#f0f0f0,#e4e4e4 45%,#d2d2d2 50%,#d0d0d0);border-right:1px solid #b4b4b4"></div>
 <div style="position:absolute;left:143px;top:2px;width:20px;height:20px;background:linear-gradient(#f0f0f0,#e4e4e4 45%,#d2d2d2 50%,#d0d0d0);border-left:1px solid #b4b4b4;margin-left:-1px"></div>
 <svg width="110" height="22" style="position:absolute;left:53px;top:1px"><polygon points="8,9.2 13,9.2 10.5,12.4" fill="#5064c8"/><polygon points="97,12 102,12 99.5,8.8" fill="#5064c8"/></svg>
 <div style="position:absolute;left:75px;top:5px;width:64.6px;text-align:right;color:#000;font-size:12.4px;line-height:14px;">1.00</div>
 <div style="position:absolute;left:22.3px;top:42.3px;color:#fff;font-size:12px;font-weight:bold;line-height:14px;">151</div>
 <div style="position:absolute;left:44.4px;top:21.9px;color:#fff;font-size:34.5px;line-height:38px;letter-spacing:-0.8px">15</div>
 <div style="position:absolute;left:85.6px;top:25.7px;color:#fff;font-size:12px;font-weight:bold;line-height:14px;">1</div>
 <div style="position:absolute;left:132.4px;top:42.3px;color:#fff;font-size:12px;font-weight:bold;line-height:14px;">151</div>
 <div style="position:absolute;left:156.9px;top:21.9px;color:#fff;font-size:34.5px;line-height:38px;letter-spacing:-2px">31</div>
 <div style="position:absolute;left:196.6px;top:25.7px;color:#fff;font-size:12px;font-weight:bold;line-height:14px;">1</div>
</div>

</body></html>
